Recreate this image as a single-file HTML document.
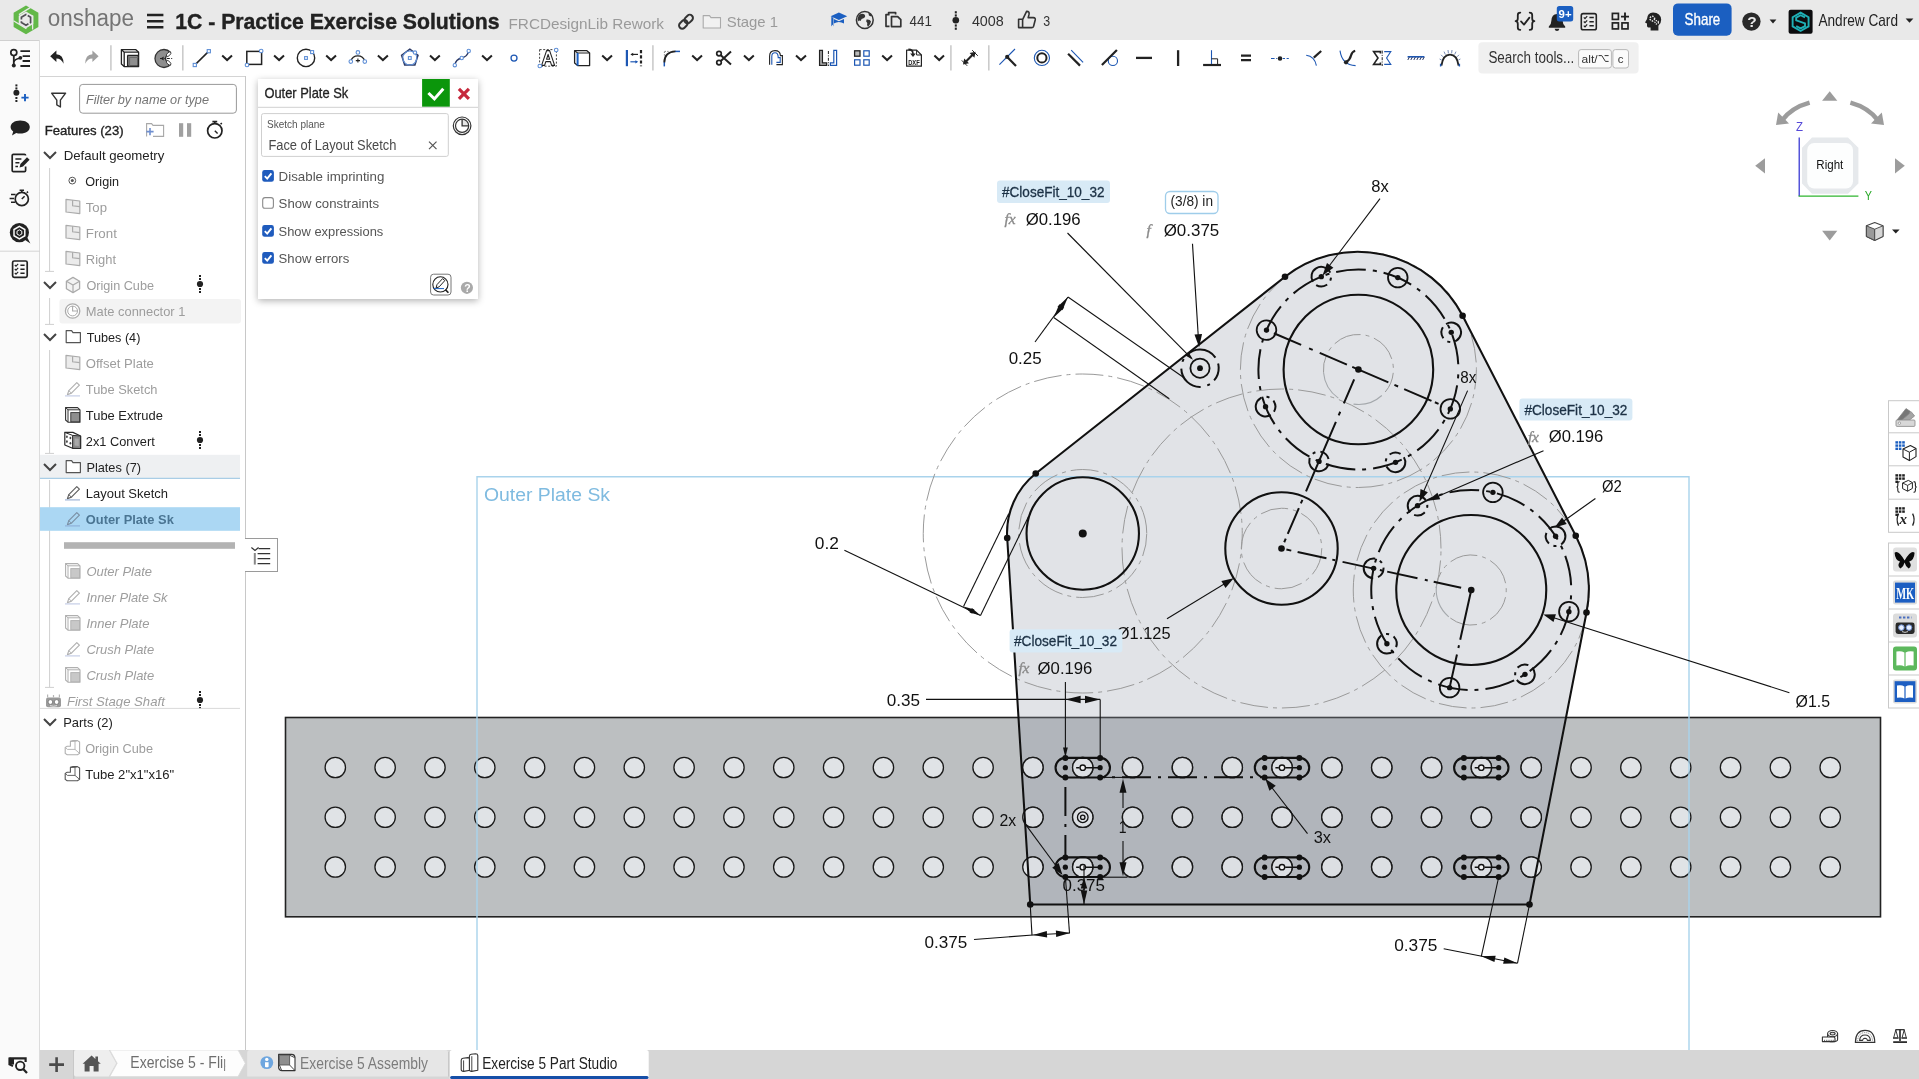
<!DOCTYPE html>
<html lang="en"><head><meta charset="utf-8"><title>Onshape - 1C - Practice Exercise Solutions</title>
<style>
html,body{margin:0;padding:0;background:#fff;}
body{width:1919px;height:1079px;overflow:hidden;position:relative;font-family:"Liberation Sans",sans-serif;}
svg text{font-family:"Liberation Sans",sans-serif;}
.abs{position:absolute;overflow:hidden;will-change:transform;}
#topbar{left:0;top:0;width:1919px;height:40px;background:#e9e9e9;}
#toolbar{left:0;top:40px;width:1919px;height:36px;background:#fff;}
#strip{left:0;top:40px;width:40px;height:1039px;background:#fafafa;box-shadow:inset -1px 0 0 #dcdcdc, inset 0 1px 0 #d0d0d0;}
#features{left:40px;top:76px;width:206px;height:974px;background:#fff;box-shadow:inset -1px 0 0 #c8c8c8, inset 0 1px 0 #d4d4d4;}
#canvas{left:246px;top:76px;width:1673px;height:974px;background:#fff;}
#dialog{left:258px;top:79px;width:220px;height:220px;background:#fff;box-shadow:0 2px 7px rgba(0,0,0,.30);overflow:visible;}
#tabbar{left:40px;top:1050px;width:1879px;height:29px;background:#d6d6d6;}
#viewcube{left:1740px;top:80px;width:179px;height:180px;}
#rtools{left:1880px;top:395px;width:39px;height:320px;}
#listbtn{left:245px;top:538px;width:33px;height:34px;background:#fff;box-shadow:inset 0 1px 0 #9a9a9a, inset -1px 0 0 #9a9a9a, inset 0 -1px 0 #9a9a9a;}
</style></head>
<body>
<div id="canvas" class="abs"><svg width="1673" height="974" viewBox="246 76 1673 974" style="position:absolute;left:0;top:0" >
<text x="484.0" y="501.0" font-size="18" fill="#7fbbe0" textLength="126.0" lengthAdjust="spacingAndGlyphs">Outer Plate Sk</text>
<rect x="285.5" y="717.5" width="1595" height="199.3" fill="#bcbfc1" stroke="#222" stroke-width="1.6"/>
<path d="M1030.25 904.5L1007.2 538.0A76 76 0 0 1 1035.75 473.5L1285.0 276.75A118 118 0 0 1 1462.6 315.8L1575.75 535.75A118 118 0 0 1 1586.5 612.5L1529.5 904.5Z" fill="rgba(150,160,171,0.29)"/>
<clipPath id="plateclip"><path d="M1030.25 904.5L1007.2 538.0A76 76 0 0 1 1035.75 473.5L1285.0 276.75A118 118 0 0 1 1462.6 315.8L1575.75 535.75A118 118 0 0 1 1586.5 612.5L1529.5 904.5Z"/></clipPath>
<g fill="#e0e3e6" stroke="#1a1a1a" stroke-width="1.3">
<circle cx="335.30" cy="767.5" r="10.2"/><circle cx="385.13" cy="767.5" r="10.2"/><circle cx="434.96" cy="767.5" r="10.2"/><circle cx="484.79" cy="767.5" r="10.2"/><circle cx="534.62" cy="767.5" r="10.2"/><circle cx="584.45" cy="767.5" r="10.2"/><circle cx="634.28" cy="767.5" r="10.2"/><circle cx="684.11" cy="767.5" r="10.2"/><circle cx="733.94" cy="767.5" r="10.2"/><circle cx="783.77" cy="767.5" r="10.2"/><circle cx="833.60" cy="767.5" r="10.2"/><circle cx="883.43" cy="767.5" r="10.2"/><circle cx="933.26" cy="767.5" r="10.2"/><circle cx="983.09" cy="767.5" r="10.2"/><circle cx="1032.92" cy="767.5" r="10.2"/><circle cx="1082.75" cy="767.5" r="10.2"/><circle cx="1132.58" cy="767.5" r="10.2"/><circle cx="1182.41" cy="767.5" r="10.2"/><circle cx="1232.24" cy="767.5" r="10.2"/><circle cx="1282.07" cy="767.5" r="10.2"/><circle cx="1331.90" cy="767.5" r="10.2"/><circle cx="1381.73" cy="767.5" r="10.2"/><circle cx="1431.56" cy="767.5" r="10.2"/><circle cx="1481.39" cy="767.5" r="10.2"/><circle cx="1531.22" cy="767.5" r="10.2"/><circle cx="1581.05" cy="767.5" r="10.2"/><circle cx="1630.88" cy="767.5" r="10.2"/><circle cx="1680.71" cy="767.5" r="10.2"/><circle cx="1730.54" cy="767.5" r="10.2"/><circle cx="1780.37" cy="767.5" r="10.2"/><circle cx="1830.20" cy="767.5" r="10.2"/><circle cx="335.30" cy="817.25" r="10.2"/><circle cx="385.13" cy="817.25" r="10.2"/><circle cx="434.96" cy="817.25" r="10.2"/><circle cx="484.79" cy="817.25" r="10.2"/><circle cx="534.62" cy="817.25" r="10.2"/><circle cx="584.45" cy="817.25" r="10.2"/><circle cx="634.28" cy="817.25" r="10.2"/><circle cx="684.11" cy="817.25" r="10.2"/><circle cx="733.94" cy="817.25" r="10.2"/><circle cx="783.77" cy="817.25" r="10.2"/><circle cx="833.60" cy="817.25" r="10.2"/><circle cx="883.43" cy="817.25" r="10.2"/><circle cx="933.26" cy="817.25" r="10.2"/><circle cx="983.09" cy="817.25" r="10.2"/><circle cx="1032.92" cy="817.25" r="10.2"/><circle cx="1082.75" cy="817.25" r="10.2"/><circle cx="1132.58" cy="817.25" r="10.2"/><circle cx="1182.41" cy="817.25" r="10.2"/><circle cx="1232.24" cy="817.25" r="10.2"/><circle cx="1282.07" cy="817.25" r="10.2"/><circle cx="1331.90" cy="817.25" r="10.2"/><circle cx="1381.73" cy="817.25" r="10.2"/><circle cx="1431.56" cy="817.25" r="10.2"/><circle cx="1481.39" cy="817.25" r="10.2"/><circle cx="1531.22" cy="817.25" r="10.2"/><circle cx="1581.05" cy="817.25" r="10.2"/><circle cx="1630.88" cy="817.25" r="10.2"/><circle cx="1680.71" cy="817.25" r="10.2"/><circle cx="1730.54" cy="817.25" r="10.2"/><circle cx="1780.37" cy="817.25" r="10.2"/><circle cx="1830.20" cy="817.25" r="10.2"/><circle cx="335.30" cy="867.0" r="10.2"/><circle cx="385.13" cy="867.0" r="10.2"/><circle cx="434.96" cy="867.0" r="10.2"/><circle cx="484.79" cy="867.0" r="10.2"/><circle cx="534.62" cy="867.0" r="10.2"/><circle cx="584.45" cy="867.0" r="10.2"/><circle cx="634.28" cy="867.0" r="10.2"/><circle cx="684.11" cy="867.0" r="10.2"/><circle cx="733.94" cy="867.0" r="10.2"/><circle cx="783.77" cy="867.0" r="10.2"/><circle cx="833.60" cy="867.0" r="10.2"/><circle cx="883.43" cy="867.0" r="10.2"/><circle cx="933.26" cy="867.0" r="10.2"/><circle cx="983.09" cy="867.0" r="10.2"/><circle cx="1032.92" cy="867.0" r="10.2"/><circle cx="1082.75" cy="867.0" r="10.2"/><circle cx="1132.58" cy="867.0" r="10.2"/><circle cx="1182.41" cy="867.0" r="10.2"/><circle cx="1232.24" cy="867.0" r="10.2"/><circle cx="1282.07" cy="867.0" r="10.2"/><circle cx="1331.90" cy="867.0" r="10.2"/><circle cx="1381.73" cy="867.0" r="10.2"/><circle cx="1431.56" cy="867.0" r="10.2"/><circle cx="1481.39" cy="867.0" r="10.2"/><circle cx="1531.22" cy="867.0" r="10.2"/><circle cx="1581.05" cy="867.0" r="10.2"/><circle cx="1630.88" cy="867.0" r="10.2"/><circle cx="1680.71" cy="867.0" r="10.2"/><circle cx="1730.54" cy="867.0" r="10.2"/><circle cx="1780.37" cy="867.0" r="10.2"/><circle cx="1830.20" cy="867.0" r="10.2"/>
</g>
<g fill="#dcdfe3" stroke="#1a1a1a" stroke-width="1.3" clip-path="url(#plateclip)">
<circle cx="983.09" cy="767.5" r="10.2"/><circle cx="1032.92" cy="767.5" r="10.2"/><circle cx="1082.75" cy="767.5" r="10.2"/><circle cx="1132.58" cy="767.5" r="10.2"/><circle cx="1182.41" cy="767.5" r="10.2"/><circle cx="1232.24" cy="767.5" r="10.2"/><circle cx="1282.07" cy="767.5" r="10.2"/><circle cx="1331.90" cy="767.5" r="10.2"/><circle cx="1381.73" cy="767.5" r="10.2"/><circle cx="1431.56" cy="767.5" r="10.2"/><circle cx="1481.39" cy="767.5" r="10.2"/><circle cx="1531.22" cy="767.5" r="10.2"/><circle cx="1581.05" cy="767.5" r="10.2"/><circle cx="983.09" cy="817.25" r="10.2"/><circle cx="1032.92" cy="817.25" r="10.2"/><circle cx="1082.75" cy="817.25" r="10.2"/><circle cx="1132.58" cy="817.25" r="10.2"/><circle cx="1182.41" cy="817.25" r="10.2"/><circle cx="1232.24" cy="817.25" r="10.2"/><circle cx="1282.07" cy="817.25" r="10.2"/><circle cx="1331.90" cy="817.25" r="10.2"/><circle cx="1381.73" cy="817.25" r="10.2"/><circle cx="1431.56" cy="817.25" r="10.2"/><circle cx="1481.39" cy="817.25" r="10.2"/><circle cx="1531.22" cy="817.25" r="10.2"/><circle cx="1581.05" cy="817.25" r="10.2"/><circle cx="983.09" cy="867.0" r="10.2"/><circle cx="1032.92" cy="867.0" r="10.2"/><circle cx="1082.75" cy="867.0" r="10.2"/><circle cx="1132.58" cy="867.0" r="10.2"/><circle cx="1182.41" cy="867.0" r="10.2"/><circle cx="1232.24" cy="867.0" r="10.2"/><circle cx="1282.07" cy="867.0" r="10.2"/><circle cx="1331.90" cy="867.0" r="10.2"/><circle cx="1381.73" cy="867.0" r="10.2"/><circle cx="1431.56" cy="867.0" r="10.2"/><circle cx="1481.39" cy="867.0" r="10.2"/><circle cx="1531.22" cy="867.0" r="10.2"/><circle cx="1581.05" cy="867.0" r="10.2"/>
</g>
<path d="M477 1052V476.7H1689V1052" fill="none" stroke="#a9d3ec" stroke-width="1.4"/>
<g fill="none" stroke="#9a9a9a" stroke-width="1" stroke-dasharray="28 5 4 5">
<circle cx="1082.75" cy="533.5" r="64" stroke-dashoffset="5"/><circle cx="1082.75" cy="533.5" r="159.5" stroke-dashoffset="12"/><circle cx="1281.5" cy="548.5" r="40.25" stroke-dashoffset="0"/><circle cx="1281.5" cy="548.5" r="159.5" stroke-dashoffset="30"/><circle cx="1358.4" cy="369.5" r="118" stroke-dashoffset="8"/><circle cx="1471.25" cy="590.0" r="118" stroke-dashoffset="20"/><path d="M1323.53 372.55A35 35 0 1 1 1385.21 392.00" stroke-dashoffset="10"/><path d="M1436.59 585.13A35 35 0 1 1 1448.75 616.81" stroke-dashoffset="14"/>
</g>
<g fill="none" stroke="#a4a8ac" stroke-width="1.1">
<path d="M1381.82 395.51A35 35 0 0 1 1353.53 404.16"/><path d="M1338.32 398.17A35 35 0 0 1 1323.53 372.55"/><path d="M1448.75 616.81A35 35 0 0 1 1436.59 585.13"/>
</g>
<g fill="none" stroke="#111" stroke-width="2" stroke-dasharray="30 7 4 7">
<circle cx="1358.4" cy="369.5" r="100" stroke-dashoffset="32"/><circle cx="1471.25" cy="590.0" r="100" stroke-dashoffset="31.5"/><path d="M1266.5 330.1L1450.3 408.9" stroke-dasharray="0 8 29.7 8.6 4 7.6 29.6 5.8 39.3 6.6 4 6.6 29.7 3.7 4 12.8"/><path d="M1358.4 369.5L1281.5 548.5" stroke-dasharray="0 10.7 26.2 9.1 4 7 75.7 9.1 4 5 28.2 5 4 6.6"/><path d="M1281.5 548.5L1471.25 590.0" stroke-dasharray="0 5 5 6.5 29.5 6 3 7.5 31.7 6.5 3 4.5 31 7.5 3 6.1 28.1 10.3"/><path d="M1471.25 590.0L1449.6 687.6" stroke-dasharray="51 5.5 3 6.5 34"/><path d="M1065.4 778V857" stroke-dasharray="29 8 3 8" stroke-dashoffset="-9"/><path d="M1100 777.3H1264.6" stroke-dasharray="29 7 3 7" stroke-dashoffset="24"/>
</g>
<path d="M1200.65 386.89A18.7 18.7 0 1 1 1199.35 349.51A18.7 18.7 0 1 1 1200.65 386.89" fill="none" stroke="#111" stroke-width="2" stroke-dasharray="29.4 7 3 6 31.6 6.5 18 5.5 3 7.5"/>
<path d="M1030.25 904.5L1007.2 538.0A76 76 0 0 1 1035.75 473.5L1285.0 276.75A118 118 0 0 1 1462.6 315.8L1575.75 535.75A118 118 0 0 1 1586.5 612.5L1529.5 904.5Z" fill="none" stroke="#111" stroke-width="2.05" stroke-linejoin="round"/>
<g fill="none" stroke="#111" stroke-width="2.1">
<circle cx="1082.75" cy="533.5" r="56.2"/><circle cx="1281.5" cy="548.5" r="56.2"/><circle cx="1358.4" cy="369.5" r="74.8"/><circle cx="1471.25" cy="590.0" r="75"/>
</g>
<g fill="none" stroke="#111" stroke-width="1.6">
<circle cx="1450.31" cy="408.89" r="9.8" stroke-width="1.8"/><path d="M1403.87 457.18A9.8 9.8 0 1 1 1387.21 467.51A9.8 9.8 0 1 1 1403.87 457.18" stroke-width="2" stroke-dasharray="32 5 3 5 11.6 5"/><path d="M1328.55 463.65A9.8 9.8 0 1 1 1309.46 459.18A9.8 9.8 0 1 1 1328.55 463.65" stroke-width="2" stroke-dasharray="32 5 3 5 11.6 5"/><path d="M1270.72 414.97A9.8 9.8 0 1 1 1260.39 398.31A9.8 9.8 0 1 1 1270.72 414.97" stroke-width="2" stroke-dasharray="32 5 3 5 11.6 5"/><circle cx="1266.49" cy="330.11" r="9.8" stroke-width="1.8"/><path d="M1312.93 281.82A9.8 9.8 0 1 1 1329.59 271.49A9.8 9.8 0 1 1 1312.93 281.82" stroke-width="2" stroke-dasharray="32 5 3 5 11.6 5"/><circle cx="1397.79" cy="277.59" r="9.8" stroke-width="1.8"/><path d="M1446.08 324.03A9.8 9.8 0 1 1 1456.41 340.69A9.8 9.8 0 1 1 1446.08 324.03" stroke-width="2" stroke-dasharray="32 5 3 5 11.6 5"/><circle cx="1568.88" cy="611.64" r="9.8" stroke-width="1.8"/><path d="M1532.21 667.72A9.8 9.8 0 1 1 1517.75 680.96A9.8 9.8 0 1 1 1532.21 667.72" stroke-width="2" stroke-dasharray="32 5 3 5 11.6 5"/><circle cx="1449.61" cy="687.63" r="9.8" stroke-width="1.8"/><path d="M1393.53 650.96A9.8 9.8 0 1 1 1380.29 636.50A9.8 9.8 0 1 1 1393.53 650.96" stroke-width="2" stroke-dasharray="32 5 3 5 11.6 5"/><path d="M1373.19 578.15A9.8 9.8 0 1 1 1374.05 558.57A9.8 9.8 0 1 1 1373.19 578.15" stroke-width="2" stroke-dasharray="32 5 3 5 11.6 5"/><path d="M1410.29 512.28A9.8 9.8 0 1 1 1424.75 499.04A9.8 9.8 0 1 1 1410.29 512.28" stroke-width="2" stroke-dasharray="32 5 3 5 11.6 5"/><circle cx="1492.89" cy="492.37" r="9.8" stroke-width="1.8"/><path d="M1548.97 529.04A9.8 9.8 0 1 1 1562.21 543.50A9.8 9.8 0 1 1 1548.97 529.04" stroke-width="2" stroke-dasharray="32 5 3 5 11.6 5"/><circle cx="1200" cy="368.2" r="9.6" stroke-width="1.8"/>
</g>
<g fill="none" stroke="#111">
<path d="M1065.35 757.90H1100.15A9.8 9.8 0 0 1 1100.15 777.50H1065.35A9.8 9.8 0 0 1 1065.35 757.90Z" stroke-width="2.1"/><circle cx="1082.75" cy="767.7" r="2.7" stroke-width="1.4" fill="#f4f5f6"/><path d="M1085.95 767.7H1100.15M1076.15 767.7H1079.55" stroke-width="1.4"/><path d="M1065.35 857.40H1100.15A9.8 9.8 0 0 1 1100.15 877.00H1065.35A9.8 9.8 0 0 1 1065.35 857.40Z" stroke-width="2.1"/><circle cx="1082.75" cy="867.2" r="2.7" stroke-width="1.4" fill="#f4f5f6"/><path d="M1085.95 867.2H1100.15M1076.15 867.2H1079.55" stroke-width="1.4"/><path d="M1264.60 757.90H1299.40A9.8 9.8 0 0 1 1299.40 777.50H1264.60A9.8 9.8 0 0 1 1264.60 757.90Z" stroke-width="2.1"/><circle cx="1282.0" cy="767.7" r="2.7" stroke-width="1.4" fill="#f4f5f6"/><path d="M1285.2 767.7H1299.40M1275.4 767.7H1278.8" stroke-width="1.4"/><path d="M1264.60 857.40H1299.40A9.8 9.8 0 0 1 1299.40 877.00H1264.60A9.8 9.8 0 0 1 1264.60 857.40Z" stroke-width="2.1"/><circle cx="1282.0" cy="867.2" r="2.7" stroke-width="1.4" fill="#f4f5f6"/><path d="M1285.2 867.2H1299.40M1275.4 867.2H1278.8" stroke-width="1.4"/><path d="M1463.90 757.90H1498.70A9.8 9.8 0 0 1 1498.70 777.50H1463.90A9.8 9.8 0 0 1 1463.90 757.90Z" stroke-width="2.1"/><circle cx="1481.3" cy="767.7" r="2.7" stroke-width="1.4" fill="#f4f5f6"/><path d="M1484.5 767.7H1498.70M1474.7 767.7H1478.1" stroke-width="1.4"/><path d="M1463.90 857.40H1498.70A9.8 9.8 0 0 1 1498.70 877.00H1463.90A9.8 9.8 0 0 1 1463.90 857.40Z" stroke-width="2.1"/><circle cx="1481.3" cy="867.2" r="2.7" stroke-width="1.4" fill="#f4f5f6"/><path d="M1484.5 867.2H1498.70M1474.7 867.2H1478.1" stroke-width="1.4"/><circle cx="1082.75" cy="817.25" r="5.3" stroke-width="1.3"/><circle cx="1082.75" cy="817.25" r="2.2" stroke-width="1.3"/>
</g>
<g fill="#111">
<circle cx="1030.25" cy="904.5" r="3.3"/><circle cx="1007.2" cy="538.0" r="3.3"/><circle cx="1035.75" cy="473.5" r="3.3"/><circle cx="1285.0" cy="276.75" r="3.3"/><circle cx="1462.6" cy="315.8" r="3.3"/><circle cx="1575.75" cy="535.75" r="3.3"/><circle cx="1586.5" cy="612.5" r="3.3"/><circle cx="1529.5" cy="904.5" r="3.3"/><circle cx="1082.75" cy="533.5" r="4"/><circle cx="1281.5" cy="548.5" r="3.3"/><circle cx="1358.4" cy="369.5" r="3.3"/><circle cx="1471.25" cy="590.0" r="3.3"/><circle cx="1450.31" cy="408.89" r="2.7"/><circle cx="1395.54" cy="462.35" r="2.7"/><circle cx="1319.01" cy="461.41" r="2.7"/><circle cx="1265.55" cy="406.64" r="2.7"/><circle cx="1266.49" cy="330.11" r="2.7"/><circle cx="1321.26" cy="276.65" r="2.7"/><circle cx="1397.79" cy="277.59" r="2.7"/><circle cx="1451.25" cy="332.36" r="2.7"/><circle cx="1568.88" cy="611.64" r="2.7"/><circle cx="1524.98" cy="674.34" r="2.7"/><circle cx="1449.61" cy="687.63" r="2.7"/><circle cx="1386.91" cy="643.73" r="2.7"/><circle cx="1373.62" cy="568.36" r="2.7"/><circle cx="1417.52" cy="505.66" r="2.7"/><circle cx="1492.89" cy="492.37" r="2.7"/><circle cx="1555.59" cy="536.27" r="2.7"/><circle cx="1200" cy="368.2" r="2.9"/><circle cx="1065.35" cy="757.90" r="3"/><circle cx="1065.35" cy="767.70" r="2.6"/><circle cx="1065.35" cy="777.50" r="3"/><circle cx="1100.15" cy="757.90" r="3"/><circle cx="1100.15" cy="767.70" r="2.6"/><circle cx="1100.15" cy="777.50" r="3"/><circle cx="1065.35" cy="857.40" r="3"/><circle cx="1065.35" cy="867.20" r="2.6"/><circle cx="1065.35" cy="877.00" r="3"/><circle cx="1100.15" cy="857.40" r="3"/><circle cx="1100.15" cy="867.20" r="2.6"/><circle cx="1100.15" cy="877.00" r="3"/><circle cx="1264.60" cy="757.90" r="3"/><circle cx="1264.60" cy="767.70" r="2.6"/><circle cx="1264.60" cy="777.50" r="3"/><circle cx="1299.40" cy="757.90" r="3"/><circle cx="1299.40" cy="767.70" r="2.6"/><circle cx="1299.40" cy="777.50" r="3"/><circle cx="1264.60" cy="857.40" r="3"/><circle cx="1264.60" cy="867.20" r="2.6"/><circle cx="1264.60" cy="877.00" r="3"/><circle cx="1299.40" cy="857.40" r="3"/><circle cx="1299.40" cy="867.20" r="2.6"/><circle cx="1299.40" cy="877.00" r="3"/><circle cx="1463.90" cy="757.90" r="3"/><circle cx="1463.90" cy="767.70" r="2.6"/><circle cx="1463.90" cy="777.50" r="3"/><circle cx="1498.70" cy="757.90" r="3"/><circle cx="1498.70" cy="767.70" r="2.6"/><circle cx="1498.70" cy="777.50" r="3"/><circle cx="1463.90" cy="857.40" r="3"/><circle cx="1463.90" cy="867.20" r="2.6"/><circle cx="1463.90" cy="877.00" r="3"/><circle cx="1498.70" cy="857.40" r="3"/><circle cx="1498.70" cy="867.20" r="2.6"/><circle cx="1498.70" cy="877.00" r="3"/>
</g>
<g fill="none" stroke="#111" stroke-width="1.1">
<path d="M1067.5 233.0L1191.5 358.4"/><path d="M1192.5 243.7L1198.3 337.0"/><path d="M1380.0 198.7L1328.0 267.5"/><path d="M1068.0 297.0L1183.7 377.5"/><path d="M1053.7 317.5L1169.3 398.7"/><path d="M1035.0 342.0L1068.0 297.0"/><path d="M1008.7 513.7L963.5 606.5"/><path d="M1028.7 516.2L980.5 615.4"/><path d="M844.4 550.2L980.5 615.4"/><path d="M1167.0 618.7L1225.0 583.5"/><path d="M1467.6 390.6L1423.0 493.0"/><path d="M1543.5 450.7L1437.0 496.7"/><path d="M1595.4 498.5L1562.0 522.3"/><path d="M1789.4 692.7L1553.0 617.6"/><path d="M926.0 699.4L1100.2 699.4"/><path d="M1065.4 682.0L1065.4 748.0"/><path d="M1100.2 699.4L1100.2 757.0"/><path d="M1025.0 823.7L1058.0 868.5"/><path d="M1123.0 788.0L1123.0 808.0"/><path d="M1123.0 841.0L1123.0 866.0"/><path d="M1100.0 877.2L1127.5 877.2"/><path d="M1100.0 777.4L1127.5 777.4"/><path d="M1084.0 866.0L1084.0 905.0"/><path d="M1030.2 904.5L1032.0 935.3"/><path d="M1065.4 877.0L1069.5 933.0"/><path d="M974.0 939.5L1033.0 935.0"/><path d="M1033.0 935.0L1070.0 933.0"/><path d="M1307.5 833.7L1271.0 786.5"/><path d="M1498.7 877.0L1481.3 956.3"/><path d="M1529.5 904.5L1517.5 963.2"/><path d="M1443.7 948.7L1517.5 963.2"/>
</g>
<path d="M1193.00 359.80L1185.39 355.38L1188.66 352.14Z" fill="#111"/>
<path d="M1199.10 347.30L1194.48 334.57L1202.07 334.08Z" fill="#111"/>
<path d="M1322.40 275.80L1326.98 262.99L1333.39 267.78Z" fill="#111"/>
<path d="M1068.00 297.00L1062.45 310.20L1057.53 306.77Z" fill="#111"/>
<path d="M1053.70 317.50L1059.25 304.30L1064.17 307.73Z" fill="#111"/>
<path d="M963.50 606.50L974.40 609.39L972.09 613.82Z" fill="#111"/>
<path d="M980.50 615.40L969.60 612.51L971.91 608.08Z" fill="#111"/>
<path d="M1233.70 578.30L1225.51 587.94L1221.36 581.10Z" fill="#111"/>
<path d="M1419.40 501.70L1420.51 489.10L1427.85 492.28Z" fill="#111"/>
<path d="M1427.80 500.70L1437.43 492.73L1440.20 499.15Z" fill="#111"/>
<path d="M1554.60 527.60L1562.05 517.38L1566.69 523.89Z" fill="#111"/>
<path d="M1543.30 614.50L1555.95 614.32L1553.53 621.95Z" fill="#111"/>
<path d="M1065.60 699.40L1080.60 695.65L1080.60 703.15Z" fill="#111"/>
<path d="M1100.00 699.40L1085.00 703.15L1085.00 695.65Z" fill="#111"/>
<path d="M1065.40 757.40L1063.00 747.40L1067.80 747.40Z" fill="#111"/>
<path d="M1062.50 875.00L1052.19 867.67L1058.65 862.95Z" fill="#111"/>
<path d="M1123.00 778.80L1126.50 792.80L1119.50 792.80Z" fill="#111"/>
<path d="M1123.00 876.30L1119.50 862.30L1126.50 862.30Z" fill="#111"/>
<path d="M1084.00 877.50L1087.25 888.50L1080.75 888.50Z" fill="#111"/>
<path d="M1084.00 904.50L1080.75 890.50L1087.25 890.50Z" fill="#111"/>
<path d="M1033.00 935.00L1046.80 931.00L1047.16 937.49Z" fill="#111"/>
<path d="M1070.00 933.00L1056.20 937.00L1055.84 930.51Z" fill="#111"/>
<path d="M1265.30 778.70L1275.78 785.79L1269.43 790.66Z" fill="#111"/>
<path d="M1481.30 956.30L1495.66 955.73L1494.44 962.11Z" fill="#111"/>
<path d="M1517.50 963.20L1503.14 963.77L1504.36 957.39Z" fill="#111"/>
<text x="1025.7" y="224.5" font-size="17" fill="#111" textLength="55.0" lengthAdjust="spacingAndGlyphs">Ø0.196</text>
<text x="1163.7" y="235.5" font-size="17" fill="#111" textLength="55.6" lengthAdjust="spacingAndGlyphs">Ø0.375</text>
<text x="1371.3" y="191.5" font-size="17" fill="#111" textLength="17.5" lengthAdjust="spacingAndGlyphs">8x</text>
<text x="1008.7" y="363.7" font-size="17" fill="#111" textLength="33.0" lengthAdjust="spacingAndGlyphs">0.25</text>
<text x="814.8" y="548.7" font-size="17" fill="#111" textLength="24.1" lengthAdjust="spacingAndGlyphs">0.2</text>
<text x="1116.8" y="638.7" font-size="17" fill="#111" textLength="53.8" lengthAdjust="spacingAndGlyphs">Ø1.125</text>
<text x="1460.2" y="382.6" font-size="17" fill="#111" textLength="16.1" lengthAdjust="spacingAndGlyphs">8x</text>
<text x="1548.7" y="442.4" font-size="17" fill="#111" textLength="54.6" lengthAdjust="spacingAndGlyphs">Ø0.196</text>
<text x="1601.9" y="492.4" font-size="17" fill="#111" textLength="19.8" lengthAdjust="spacingAndGlyphs">Ø2</text>
<text x="1795.6" y="706.7" font-size="17" fill="#111" textLength="34.4" lengthAdjust="spacingAndGlyphs">Ø1.5</text>
<text x="1037.6" y="673.7" font-size="17" fill="#111" textLength="54.8" lengthAdjust="spacingAndGlyphs">Ø0.196</text>
<text x="886.7" y="706.0" font-size="17" fill="#111" textLength="33.3" lengthAdjust="spacingAndGlyphs">0.35</text>
<text x="999.5" y="826.2" font-size="17" fill="#111" textLength="16.7" lengthAdjust="spacingAndGlyphs">2x</text>
<text x="1118.7" y="833.0" font-size="17" fill="#111" textLength="7.8" lengthAdjust="spacingAndGlyphs">1</text>
<text x="1062.5" y="891.2" font-size="17" fill="#111" textLength="42.5" lengthAdjust="spacingAndGlyphs">0.375</text>
<text x="924.5" y="947.8" font-size="17" fill="#111" textLength="42.8" lengthAdjust="spacingAndGlyphs">0.375</text>
<text x="1313.7" y="842.5" font-size="17" fill="#111" textLength="17.3" lengthAdjust="spacingAndGlyphs">3x</text>
<text x="1394.2" y="951.2" font-size="17" fill="#111" textLength="43.3" lengthAdjust="spacingAndGlyphs">0.375</text>
<text x="1004.6" y="224" style="font-family:'Liberation Serif',serif;font-style:italic" font-size="15.5" fill="#8a8a8a" stroke="#8a8a8a" stroke-width="0.35" letter-spacing="-0.2">fx</text>
<text x="1146.4" y="235" style="font-family:'Liberation Serif',serif;font-style:italic" font-size="15.5" fill="#8a8a8a" stroke="#8a8a8a" stroke-width="0.35" letter-spacing="-0.2">f</text>
<text x="1528" y="442" style="font-family:'Liberation Serif',serif;font-style:italic" font-size="15.5" fill="#8a8a8a" stroke="#8a8a8a" stroke-width="0.35" letter-spacing="-0.2">fx</text>
<text x="1018.4" y="673" style="font-family:'Liberation Serif',serif;font-style:italic" font-size="15.5" fill="#8a8a8a" stroke="#8a8a8a" stroke-width="0.35" letter-spacing="-0.2">fx</text>
<rect x="997" y="180.5" width="113.0" height="22.5" rx="3" fill="#d8eaf6"/>
<text x="1002.0" y="196.8" font-size="14.5" fill="#1c3145" textLength="102.5" lengthAdjust="spacingAndGlyphs" stroke="#1c3145" stroke-width="0.3">#CloseFit_10_32</text>
<rect x="1519.4" y="398.5" width="113.0" height="22.0" rx="3" fill="#d8eaf6"/>
<text x="1524.4" y="414.6" font-size="14.5" fill="#1c3145" textLength="103.0" lengthAdjust="spacingAndGlyphs" stroke="#1c3145" stroke-width="0.3">#CloseFit_10_32</text>
<rect x="1009.6" y="629.2" width="112.8" height="23.3" rx="3" fill="#d8eaf6"/>
<text x="1014.0" y="645.8" font-size="14.5" fill="#1c3145" textLength="103.0" lengthAdjust="spacingAndGlyphs" stroke="#1c3145" stroke-width="0.3">#CloseFit_10_32</text>
<rect x="1165.5" y="191.5" width="52.5" height="22" rx="4.5" fill="#fff" stroke="#9fcdea" stroke-width="1.3"/>
<text x="1170.5" y="205.7" font-size="14" fill="#222" textLength="42.5" lengthAdjust="spacingAndGlyphs">(3/8) in</text>
<g fill="#fff" stroke="#333" stroke-width="1.1" stroke-linejoin="round"><path d="M1827.6 1033.6V1040Q1827.8 1041.8 1832.6 1041.8Q1837.6 1041.8 1837.6 1039.6V1033.6"/><ellipse cx="1832.6" cy="1033.6" rx="5" ry="3.1"/><ellipse cx="1832.6" cy="1033.6" rx="2.5" ry="1.4" fill="#ddd"/><path d="M1822.4 1037H1833.6Q1835 1037 1835 1038.4V1041.6H1822.4Z"/></g>
<path d="M1824.6 1039.8V1041.6M1826.8 1039.8V1041.6M1829 1039.8V1041.6M1831.2 1039.8V1041.6M1833.2 1039.8V1041.6" stroke="#333" stroke-width="0.8"/>
<path d="M1855.4 1042.4Q1855.6 1030.4 1865 1030.4Q1874.6 1030.4 1874.8 1042.4Z" fill="#fff" stroke="#333" stroke-width="1.2" stroke-linejoin="round"/>
<path d="M1857.6 1041.2Q1858 1032.6 1865 1032.6Q1872 1032.6 1872.6 1041.2" fill="none" stroke="#777" stroke-width="1" stroke-dasharray="1 1"/>
<path d="M1859.6 1040.4Q1860 1035 1865 1035Q1870 1035 1870.4 1040.4L1867.4 1040.4Q1866.6 1037.8 1865 1038.6Q1863.4 1037.8 1862.6 1040.4Z" fill="#fff" stroke="#333" stroke-width="1.1" stroke-linejoin="round"/>
<g fill="none" stroke="#222"><path d="M1895.4 1029.7H1904.6" stroke-width="1.2"/><path d="M1900 1029.7V1041" stroke-width="1.6"/><path d="M1893.2 1042.1H1907" stroke-width="1.7"/><path d="M1895.8 1029.9L1893.8 1037.4M1895.8 1029.9L1897.8 1037.4M1904.2 1029.9L1902.2 1037.4M1904.2 1029.9L1906.2 1037.4" stroke-width="0.9"/><path d="M1893 1038H1898.6M1901.4 1038H1907" stroke-width="1.7"/></g>
</svg>
</div>
<div id="topbar" class="abs"><svg width="1919" height="40" viewBox="0 0 1919 40" style="position:absolute;left:0;top:0" >
<polygon points="26.00,5.60 38.38,12.75 38.38,27.05 26.00,34.20 13.62,27.05 13.62,12.75" fill="#62b848"/>
<polygon points="26.00,11.50 33.27,15.70 33.27,24.10 26.00,28.30 18.73,24.10 18.73,15.70" fill="#e9e9e9"/>
<g stroke="#e9e9e9" stroke-width="1.3" fill="none"><path d="M30.2 7.6L19 14.6"/><path d="M32.6 15.5V29.5"/><path d="M13.4 20.8L26.4 28.6"/></g>
<polygon points="26.00,14.60 30.59,17.25 30.59,22.55 26.00,25.20 21.41,22.55 21.41,17.25" fill="none" stroke="#505055" stroke-width="1.7" stroke-dasharray="9.5 1.6" stroke-dashoffset="-2"/>
<text x="47.8" y="26.0" font-size="23.5" fill="#747474" textLength="86.2" lengthAdjust="spacingAndGlyphs">onshape</text>
<path d="M147 15.1H163.4M147 21.2H163.4M147 27.3H163.4" stroke="#222" stroke-width="2.5"/>
<text x="175.2" y="28.8" font-size="22" fill="#222" textLength="324.3" lengthAdjust="spacingAndGlyphs" font-weight="bold" stroke="#222" stroke-width="0.4">1C - Practice Exercise Solutions</text>
<text x="508.5" y="29.0" font-size="15" fill="#9a9a9a" textLength="155.5" lengthAdjust="spacingAndGlyphs">FRCDesignLib Rework</text>
<g transform="translate(686 21.7) rotate(-45)" fill="none" stroke="#333" stroke-width="2"><rect x="-8.5" y="-3.2" width="9.5" height="6.4" rx="3.2"/><rect x="-1" y="-3.2" width="9.5" height="6.4" rx="3.2"/></g>
<path d="M703.2 28V15.6H709.5L711 17.6H720.5V28Z" fill="#f1f1f1" stroke="#aaa" stroke-width="1.1" stroke-linejoin="round"/>
<text x="726.7" y="27.1" font-size="15" fill="#9a9a9a" textLength="51.4" lengthAdjust="spacingAndGlyphs">Stage 1</text>
<g fill="#1b5fc1"><path d="M838.9 12.6L847.2 16.3L838.9 20L830.6 16.3Z"/><path d="M833.8 19V23.6Q838.9 20.6 844 23.6V19L838.9 21.3Z"/><path d="M831.3 17V26.6L832.6 24.5L833.4 26.6V17.6Z"/></g>
<circle cx="864.8" cy="20" r="8.4" fill="none" stroke="#333" stroke-width="1.5"/>
<path d="M859.5 14.5Q862.5 13 864.5 14.5Q866 16.5 864 18Q861 18.5 860.5 21Q859 20 858 21.5Q856.8 18 859.5 14.5ZM866.5 19.5Q870 19 871 21.5Q870.5 24.5 868 27Q866.5 25 867.3 23Q865.5 21.5 866.5 19.5ZM868.5 12.6Q871 13.8 872 16Q870 16.5 868.8 15.3Z" fill="#333"/>
<g fill="none" stroke="#333" stroke-width="1.7" stroke-linejoin="round"><path d="M889.5 14.6H886V26.3H889.5"/><path d="M888.6 14.6V12.6H895.6V14.6"/><path d="M891.5 16.6H897.7L900.8 19.7V26.6H891.5Z"/></g>
<text x="909.6" y="26.0" font-size="15" fill="#333" textLength="22.3" lengthAdjust="spacingAndGlyphs">441</text>
<g fill="#222"><circle cx="955.8" cy="20.2" r="3.3"/><rect x="954.8" y="11.2" width="2" height="2.2"/><rect x="954.8" y="14.4" width="2" height="2.2"/><rect x="954.8" y="24.4" width="2" height="2.2"/><rect x="954.8" y="27.6" width="2" height="2.2"/></g>
<text x="971.9" y="26.0" font-size="15" fill="#333" textLength="31.9" lengthAdjust="spacingAndGlyphs">4008</text>
<path d="M1018.6 19.3H1022.6V27.6H1018.6ZM1022.6 19.6L1026.6 11.4Q1029.6 11.2 1029 14.4L1028.2 17.6H1033.4Q1035.6 17.8 1035.2 20L1033.6 26.2Q1033.1 27.7 1031.4 27.6H1022.6" fill="none" stroke="#333" stroke-width="1.6" stroke-linejoin="round"/>
<text x="1043.3" y="26.0" font-size="15" fill="#333" textLength="6.9" lengthAdjust="spacingAndGlyphs">3</text>
<g fill="none" stroke="#222" stroke-width="1.8" stroke-linecap="round" stroke-linejoin="round"><path d="M1520.3 12.6Q1517.8 12.6 1517.8 15V18.4Q1517.8 21 1515.6 21.2Q1517.8 21.4 1517.8 24V27.4Q1517.8 29.8 1520.3 29.8"/><path d="M1529.7 12.6Q1532.2 12.6 1532.2 15V18.4Q1532.2 21 1534.4 21.2Q1532.2 21.4 1532.2 24V27.4Q1532.2 29.8 1529.7 29.8"/><path d="M1521 21.4L1524 24.6L1529.4 17.6"/></g>
<path d="M1557 14Q1562.4 14.4 1562.6 20.6Q1562.6 24.4 1565.2 26.6V27.8H1548.8V26.6Q1551.4 24.4 1551.4 20.6Q1551.6 14.4 1557 14ZM1554.6 28.8H1559.4Q1559 31 1557 31Q1555 31 1554.6 28.8Z" fill="#222"/>
<rect x="1556.8" y="6" width="16.4" height="15.6" rx="2.5" fill="#1b5fc1"/>
<text x="1558.6" y="17.6" font-size="11.5" fill="#fff" textLength="13.0" lengthAdjust="spacingAndGlyphs" font-weight="bold">9+</text>
<g fill="none" stroke="#222" stroke-width="1.6"><rect x="1581.3" y="13.6" width="15" height="16.2" rx="1.8"/><path d="M1589.4 17.6H1593.8M1589.4 21.7H1593.8M1589.4 25.8H1593.8" stroke-width="1.5"/><path d="M1583.8 17.4L1585 18.6L1587.2 16.2M1583.8 21.5L1585 22.7L1587.2 20.3M1583.8 25.6L1585 26.8L1587.2 24.4" stroke-width="1.2"/></g>
<g fill="none" stroke="#222" stroke-width="1.7"><rect x="1612.4" y="13.4" width="6" height="6"/><rect x="1612.4" y="22.9" width="6" height="6"/><rect x="1622" y="22.9" width="6" height="6"/><path d="M1625 12.6V20.6M1621 16.6H1629" stroke-width="1.9"/></g>
<path d="M1653 12.4Q1660.8 12.6 1661.2 19.8Q1661.2 23.6 1658.4 25.8V30.4H1650.6V27.4H1648.4Q1647 27.4 1647 25.8V23.4L1645 22.6L1647 19Q1647.4 12.6 1653 12.4Z" fill="#222"/>
<circle cx="1652.3" cy="18.6" r="2.3" fill="none" stroke="#e9e9e9" stroke-width="1.5" stroke-dasharray="1.4 1"/><circle cx="1656.7" cy="22.3" r="1.7" fill="none" stroke="#e9e9e9" stroke-width="1.3" stroke-dasharray="1.2 0.9"/>
<rect x="1673" y="3.4" width="58.6" height="32.4" rx="5" fill="#1b5fc1"/>
<text x="1684.6" y="25.2" font-size="17" fill="#fff" textLength="35.7" lengthAdjust="spacingAndGlyphs" stroke="#fff" stroke-width="0.35">Share</text>
<circle cx="1751.4" cy="21.6" r="9.2" fill="#2a2a2a"/>
<text x="1747.2" y="27.0" font-size="15.5" fill="#e9e9e9" font-weight="bold">?</text>
<path d="M1769.6 19.6H1776.4L1773 23.4Z" fill="#222"/>
<rect x="1788.6" y="9.8" width="24" height="24" rx="2" fill="#0c0c0e"/>
<polygon points="1800.60,12.60 1808.57,17.20 1808.57,26.40 1800.60,31.00 1792.63,26.40 1792.63,17.20" fill="none" stroke="#1fb0b6" stroke-width="1.9"/>
<path d="M1805 17.4L1800.6 15.2L1796.2 17.6V20.4L1805 23.4V26.2L1800.6 28.4L1796.2 26.2" fill="none" stroke="#1fb0b6" stroke-width="1.9"/>
<text x="1818.4" y="26.4" font-size="16.2" fill="#222" textLength="79.6" lengthAdjust="spacingAndGlyphs">Andrew Card</text>
<path d="M1905.6 18.6H1913.4L1909.5 22.8Z" fill="#222"/>
</svg>
</div>
<div id="toolbar" class="abs"><svg width="1919" height="36" viewBox="0 40 1919 36" style="position:absolute;left:0;top:0" >
<path d="M50.2 56.2L56.4 50.6V54.2Q63.6 54.6 63.6 63.8Q61.2 58.6 56.4 58.6V62Z" fill="#222"/>
<path d="M98.6 56.2L92.4 50.6V54.2Q85.2 54.6 85.2 63.8Q87.6 58.6 92.4 58.6V62Z" fill="#a0a0a0"/>
<path d="M110.9 45.2V70.6" stroke="#cbcbcb" stroke-width="1.6"/>
<g fill="none" stroke="#222" stroke-width="1.3" stroke-linejoin="round"><path d="M121.4 49.6H135.6L138.6 52.2V66.6H124.2L121.4 64Z" fill="#fff"/><path d="M121.4 49.6L124.2 52.2H138.6M124.2 52.2V66.6"/><rect x="127.6" y="55.4" width="10.6" height="10.8" fill="#8e8e8e"/><path d="M127.6 55.4L129.6 57.4H138.2M129.6 57.4V66.2" stroke="#6a6a6a" stroke-width="1"/></g>
<path d="M170.4 52.2A9 9 0 1 0 170.4 64.8L166.2 60.6A3.4 3.4 0 0 1 166.2 56.4Z" fill="#8e8e8e" stroke="#333" stroke-width="1.3"/>
<ellipse cx="168.6" cy="54.2" rx="2.8" ry="1.5" transform="rotate(-45 168.6 54.2)" fill="#fff" stroke="#333" stroke-width="0.9"/><ellipse cx="168.6" cy="62.8" rx="2.8" ry="1.5" transform="rotate(45 168.6 62.8)" fill="#fff" stroke="#333" stroke-width="0.9"/>
<path d="M160 58.5H173.4" stroke="#222" stroke-width="1" stroke-dasharray="3 1.4 1 1.4"/><path d="M160.6 58.5L163.6 56.6V60.4Z" fill="#222"/>
<path d="M182.8 45.2V70.6" stroke="#cbcbcb" stroke-width="1.6"/>
<path d="M195.2 64.6L208.4 51.6" stroke="#222" stroke-width="1.5"/>
<g fill="#fff" stroke="#5f8fd6" stroke-width="1.1"><rect x="193.2" y="63.4" width="3.2" height="3.2"/><rect x="207.2" y="49.6" width="3.2" height="3.2"/></g>
<path d="M222.2 55.6L227.1 60.1L232.0 55.6" fill="none" stroke="#222" stroke-width="2"/>
<rect x="246.8" y="51.4" width="14.8" height="13" fill="none" stroke="#222" stroke-width="1.5"/>
<g fill="#fff" stroke="#5f8fd6" stroke-width="1.1"><circle cx="261.2" cy="51" r="1.8"/><circle cx="247" cy="65" r="1.8"/></g>
<path d="M274.1 55.6L279.1 60.1L284.0 55.6" fill="none" stroke="#222" stroke-width="2"/>
<circle cx="306" cy="57.9" r="8.7" fill="none" stroke="#222" stroke-width="1.4"/>
<g fill="#fff" stroke="#5f8fd6" stroke-width="1.1"><rect x="304.6" y="56.6" width="2.8" height="2.8"/><rect x="310.6" y="50.6" width="3" height="3"/></g>
<path d="M326.2 55.6L331.1 60.1L336.0 55.6" fill="none" stroke="#222" stroke-width="2"/>
<path d="M350.8 61.2A7.3 7.3 0 0 1 364.8 61.2" fill="none" stroke="#222" stroke-width="1.3"/>
<g fill="#fff" stroke="#5f8fd6" stroke-width="1.1"><circle cx="350.8" cy="61.6" r="1.8"/><circle cx="364.8" cy="61.6" r="1.8"/><circle cx="357.9" cy="52.4" r="1.8"/></g>
<path d="M355.8 60.6H360M357.9 58.6V62.6" stroke="#222" stroke-width="1.1"/>
<path d="M377.9 55.6L382.9 60.1L387.9 55.6" fill="none" stroke="#222" stroke-width="2"/>
<path d="M409.8 49.2L418 55.2L414.9 65H404.7L401.6 55.2Z" fill="none" stroke="#2c3a66" stroke-width="1.5"/>
<circle cx="409.8" cy="58" r="7" fill="none" stroke="#5f8fd6" stroke-width="1.1"/><rect x="408.4" y="56.6" width="2.8" height="2.8" fill="#fff" stroke="#5f8fd6" stroke-width="1.1"/><circle cx="415" cy="52.6" r="1.7" fill="#fff" stroke="#5f8fd6" stroke-width="1.1"/>
<path d="M430.0 55.6L434.9 60.1L439.8 55.6" fill="none" stroke="#222" stroke-width="2"/>
<path d="M454.8 65Q455.6 59.6 461.6 58Q467.6 56.6 468.6 51" fill="none" stroke="#2c3a66" stroke-width="1.4"/>
<g fill="#fff" stroke="#5f8fd6" stroke-width="1.1"><circle cx="454.8" cy="65.2" r="1.7"/><circle cx="461.7" cy="58" r="1.7"/><circle cx="468.7" cy="51" r="1.7"/></g>
<path d="M482.1 55.6L487.0 60.1L491.9 55.6" fill="none" stroke="#222" stroke-width="2"/>
<circle cx="514" cy="58.1" r="3" fill="#fff" stroke="#1d57b3" stroke-width="1.3"/>
<rect x="539.6" y="49.6" width="16.8" height="16.6" fill="none" stroke="#444" stroke-width="1" stroke-dasharray="2 1.6"/>
<path d="M541.6 65.4L546.6 50.6H549.6L554.6 65.4H551.6L550.4 61.6H545.8L544.6 65.4ZM546.6 59.2H549.6L548.1 54.4Z" fill="#fff" stroke="#222" stroke-width="1.1" stroke-linejoin="round"/>
<g fill="#fff" stroke="#5f8fd6" stroke-width="1.1"><circle cx="539.8" cy="66" r="1.8"/><circle cx="556.2" cy="50" r="1.8"/></g>
<g fill="none" stroke-linejoin="round"><path d="M574.6 50.6H586.6L589.6 53V65.6H577.6L574.6 63Z" fill="#fff" stroke="#222" stroke-width="1.3"/><path d="M574.6 50.6L577.6 53H589.6" stroke="#222" stroke-width="1.2"/><path d="M577.6 53V65.6" stroke="#1b5fc1" stroke-width="2"/></g>
<path d="M602.2 55.6L607.1 60.1L612.0 55.6" fill="none" stroke="#222" stroke-width="2"/>
<path d="M626.9 50V66.2" stroke="#1d57b3" stroke-width="2.2"/><path d="M641 50V66.2" stroke="#222" stroke-width="2.2" stroke-dasharray="3.2 2"/>
<path d="M631.4 54.4H638" stroke="#222" stroke-width="1.2"/><path d="M630.4 54.4L633.2 52.8V56Z" fill="#222"/><path d="M630.4 61.8H637" stroke="#1d57b3" stroke-width="1.2"/><path d="M638.2 61.8L635.4 60.2V63.4Z" fill="#1d57b3"/>
<path d="M652.9 45.2V70.6" stroke="#cbcbcb" stroke-width="1.6"/>
<path d="M664.6 51.4H669" stroke="#777" stroke-width="0.9" stroke-dasharray="1.4 1.2"/><path d="M664.4 51.6V56" stroke="#777" stroke-width="0.9" stroke-dasharray="1.4 1.2"/>
<path d="M664.3 66.4V62" stroke="#1d57b3" stroke-width="1.5"/><path d="M675 51.4H680" stroke="#1d57b3" stroke-width="1.5"/><path d="M664.3 62.4Q664.6 51.8 675.4 51.4" fill="none" stroke="#222" stroke-width="1.9"/>
<path d="M692.2 55.6L697.1 60.1L702.0 55.6" fill="none" stroke="#222" stroke-width="2"/>
<g fill="none" stroke="#222" stroke-width="1.7"><circle cx="719" cy="53.6" r="2.3"/><circle cx="719" cy="62.6" r="2.3"/><path d="M720.8 55.2L731 64.4M720.8 61L731 51.6" stroke-width="2"/></g>
<path d="M744.0 55.6L748.9 60.1L753.8 55.6" fill="none" stroke="#222" stroke-width="2"/>
<path d="M769.6 64.8V56.2Q769.6 50.6 775 50.6Q780.2 50.6 780.4 55.6H782.4V64.6H776.4" fill="none" stroke="#222" stroke-width="1.1"/><path d="M771.8 64.8V56.4Q771.8 52.8 775 52.8Q778.2 52.8 778.2 57.6H780.2V62.4H776.4" fill="none" stroke="#1d57b3" stroke-width="1.1"/>
<path d="M796.0 55.6L801.0 60.1L806.0 55.6" fill="none" stroke="#222" stroke-width="2"/>
<path d="M819.6 50.4H822.4V62.8H826.6V65.4H819.6Z" fill="#bbb" stroke="#222" stroke-width="1.3"/><path d="M828.4 51V66" stroke="#222" stroke-width="1" stroke-dasharray="3 1.4 1 1.4"/><path d="M836.6 50.4H833.8V62.8H830.4V65.4H836.6Z" fill="#fff" stroke="#1d57b3" stroke-width="1.2"/>
<rect x="854.6" y="50.8" width="5.4" height="5.4" fill="#bbb" stroke="#222" stroke-width="1.3"/><g fill="#fff" stroke="#1d57b3" stroke-width="1.2"><rect x="863.8" y="50.8" width="5.4" height="5.4"/><rect x="854.6" y="59.8" width="5.4" height="5.4"/><rect x="863.8" y="59.8" width="5.4" height="5.4"/></g>
<path d="M882.2 55.6L887.1 60.1L892.0 55.6" fill="none" stroke="#222" stroke-width="2"/>
<path d="M906.6 50.2H916.6L921.4 55V66.2H906.6Z" fill="#fff" stroke="#222" stroke-width="1.2" stroke-linejoin="round"/><path d="M916.6 50.2V55H921.4" fill="none" stroke="#222" stroke-width="1"/>
<path d="M908.4 49.4Q913 49.4 913 54" fill="none" stroke="#222" stroke-width="1.6"/><path d="M913 57L910.2 53.4H915.8Z" fill="#222"/>
<text x="908.2" y="64.8" font-size="6.8" fill="#222" textLength="11.6" lengthAdjust="spacingAndGlyphs" font-weight="bold">DXF</text>
<path d="M934.4 55.6L939.2 60.1L944.0 55.6" fill="none" stroke="#222" stroke-width="2"/>
<path d="M950.9 45.2V70.6" stroke="#cbcbcb" stroke-width="1.6"/>
<path d="M966 61.4L972.6 54.8" stroke="#222" stroke-width="2.1"/><path d="M963 64.4L964.2 58.4L969 63.2ZM975.6 51.8L974.4 57.8L969.6 53Z" fill="#222"/><path d="M961.8 60.4L967.2 65.8M972.2 50.2L977.8 55.8" stroke="#222" stroke-width="1"/>
<path d="M988.8 45.2V70.6" stroke="#cbcbcb" stroke-width="1.6"/>
<path d="M999.4 64.6L1015 49" stroke="#1d57b3" stroke-width="1.1"/><path d="M1007.2 57L1016 66" stroke="#222" stroke-width="2.2"/><circle cx="1007.2" cy="56.9" r="2.1" fill="#222"/>
<circle cx="1041.9" cy="57.9" r="7.6" fill="none" stroke="#1d57b3" stroke-width="1.1"/><circle cx="1041.9" cy="57.9" r="4.6" fill="none" stroke="#222" stroke-width="2"/>
<path d="M1068.1 53.8L1080 65.6" stroke="#222" stroke-width="2.2"/><path d="M1071.2 50.2L1083.1 62.4" stroke="#1d57b3" stroke-width="1.1"/>
<circle cx="1112.9" cy="60.9" r="4.6" fill="none" stroke="#1d57b3" stroke-width="1.1"/><path d="M1101.9 65L1116.9 50" stroke="#222" stroke-width="2.2"/>
<path d="M1136 57.9H1152" stroke="#222" stroke-width="2.3"/>
<path d="M1178.1 50.2V66" stroke="#222" stroke-width="2.3"/>
<path d="M1203.1 65H1221" stroke="#222" stroke-width="2.2"/><path d="M1211.5 50.2V64" stroke="#1d57b3" stroke-width="1.1"/><path d="M1211.5 58.8H1217.6V64" fill="none" stroke="#222" stroke-width="1"/>
<path d="M1241 55.6H1251M1241 60.1H1251" stroke="#222" stroke-width="2.2"/>
<path d="M1271 58.5H1288.8" stroke="#1d57b3" stroke-width="1.1" stroke-dasharray="3.6 1.6"/><circle cx="1280" cy="58.5" r="2.9" fill="#fff"/><circle cx="1280" cy="58.5" r="2.3" fill="#222"/>
<path d="M1306.2 55.2Q1314.6 56.2 1316.4 65.6" fill="none" stroke="#1d57b3" stroke-width="1.1"/><path d="M1313.8 57.6L1321.2 51" stroke="#222" stroke-width="2.2"/>
<path d="M1340 50.6Q1342 65 1355.6 65.6" fill="none" stroke="#1d57b3" stroke-width="1.1"/><path d="M1346 62.2Q1350 60 1351 55.6Q1352 51.6 1355.2 50.8" fill="none" stroke="#222" stroke-width="2.2"/><circle cx="1346" cy="62.3" r="2.1" fill="#222"/>
<path d="M1380.4 53.4V51.6H1373.6L1378 58L1373.6 64.4H1380.4V62.6" fill="none" stroke="#222" stroke-width="1.6"/><path d="M1382.2 50.6V66" stroke="#222" stroke-width="1" stroke-dasharray="3 1.3 1 1.3"/><path d="M1384.2 51.6H1390.8L1386.6 58L1390.8 64.4H1384.2" fill="none" stroke="#1d57b3" stroke-width="1.1"/>
<path d="M1407.6 56.8H1424.4" stroke="#1d57b3" stroke-width="1.6"/><path d="M1409.4 57L1407.8 60M1412.4 57L1410.8 60M1415.4 57L1413.8 60M1418.4 57L1416.8 60M1421.4 57L1419.8 60M1424.2 57L1422.6 60" stroke="#2c3a66" stroke-width="1"/>
<path d="M1441.4 65.6Q1443 54.6 1450 54.6Q1457 54.6 1458.6 65.6" fill="none" stroke="#222" stroke-width="1.9"/>
<path d="M1441.6 60L1439.6 59M1443 56.8L1441 54.8M1445.4 54.6L1444 51.6M1448.4 53.4L1448 50M1451.6 53.4L1452 50M1454.6 54.6L1456 51.6M1457 56.8L1459 54.8M1458.4 60L1460.4 59" stroke="#6a7fae" stroke-width="0.9"/><path d="M1440.6 63.8V66.4M1459.4 63.8V66.4" stroke="#1d57b3" stroke-width="1.4"/>
<rect x="1478.4" y="42.2" width="160.2" height="31.4" rx="4" fill="#f0f0f0"/>
<text x="1488.4" y="62.9" font-size="15.8" fill="#333" textLength="85.9" lengthAdjust="spacingAndGlyphs">Search tools...</text>
<rect x="1578.6" y="49.6" width="32.8" height="18.4" rx="2.5" fill="#fbfbfb" stroke="#b8b8b8" stroke-width="1"/><rect x="1612.9" y="49.6" width="15.6" height="18.4" rx="2.5" fill="#fbfbfb" stroke="#b8b8b8" stroke-width="1"/>
<text x="1581.6" y="63.0" font-size="11.5" fill="#333" textLength="16.0" lengthAdjust="spacingAndGlyphs">alt/</text>
<path d="M1598.6 55.6H1601.8L1605.4 61.4H1608.6M1604.6 55.6H1608.6" fill="none" stroke="#333" stroke-width="1"/>
<text x="1617.8" y="63.0" font-size="11.5" fill="#333">c</text>
</svg>
</div>
<div id="strip" class="abs"><svg width="40" height="1039" viewBox="0 40 40 1039" style="position:absolute;left:0;top:0" >
<g fill="none" stroke="#222"><circle cx="13.8" cy="52.6" r="3" stroke-width="1.7"/><path d="M13.8 55.6V64.4" stroke-width="1.8"/><path d="M13.8 62Q14.2 59.4 19.8 58.2" stroke-width="1.6"/><path d="M20.4 51.2H30M22.6 56.2H30M22.6 61H30M20.4 66H30" stroke-width="1.8"/></g><circle cx="13.8" cy="65.4" r="2" fill="#222"/><circle cx="20.4" cy="57.8" r="1.9" fill="#222"/>
<g fill="#222"><circle cx="16.4" cy="92.8" r="3"/><rect x="15.4" y="84.4" width="2" height="2"/><rect x="15.4" y="87.4" width="2" height="2"/><rect x="15.4" y="97" width="2" height="2"/><rect x="15.4" y="100" width="2" height="2"/></g><path d="M21.4 97.6H28.6M25 94V101.2" stroke="#1b5fc1" stroke-width="1.9"/>
<path d="M20.2 120.4C26 120.4 29.8 123.2 29.8 127C29.8 130.8 26 133.6 20.2 133.6C18.8 133.6 17.4 133.4 16.2 133L12 135.6L13.2 131.4C11.6 130.2 10.6 128.8 10.6 127C10.6 123.2 14.4 120.4 20.2 120.4Z" fill="#222"/>
<g fill="none" stroke="#222" stroke-width="1.7"><path d="M25.6 166.4V170.4Q25.6 171.6 24.4 171.6H13.4Q12.2 171.6 12.2 170.4V155.6Q12.2 154.4 13.4 154.4H24.4Q25.6 154.4 25.6 155.6"/><path d="M15.4 159H21.4M15.4 162.8H19.4M15.4 166.6H18" stroke-width="1.5"/></g><path d="M19.6 167.4L20.4 164L27 157.2L29.6 159.8L23 166.6Z" fill="#222"/>
<g fill="none" stroke="#222"><circle cx="21.8" cy="199" r="6.6" stroke-width="1.7"/><path d="M19.6 190.2H24M21.8 190.2V192.4M26.8 192.8L28 191.6" stroke-width="1.6"/><path d="M21.8 199L24.6 196.2" stroke-width="1.5"/><path d="M11 194.6H15.6M9.6 198.4H14M11 202.2H15" stroke-width="1.5"/></g>
<circle cx="19.4" cy="232.6" r="9.6" fill="#222"/><path d="M24.4 239.6L30.4 243.4L27 237Z" fill="#222"/>
<polygon points="19.4,226.4 24.8,229.5 24.8,235.7 19.4,238.8 14,235.7 14,229.5" fill="none" stroke="#fafafa" stroke-width="1.5"/><polygon points="19.4,229.8 21.8,231.2 21.8,234 19.4,235.4 17,234 17,231.2" fill="none" stroke="#fafafa" stroke-width="1"/>
<path d="M0 251.2H40" stroke="#d4d4d4" stroke-width="1"/>
<g fill="none" stroke="#222"><rect x="12.6" y="261" width="14.6" height="16.4" rx="1.6" stroke-width="1.7"/><path d="M20.4 265.2H24.6M20.4 269.2H24.6M20.4 273.2H24.6" stroke-width="1.4"/><path d="M14.8 265L16 266.2L18.2 263.8M14.8 269L16 270.2L18.2 267.8M14.8 273L16 274.2L18.2 271.8" stroke-width="1.1"/></g>
<path d="M9.4 1058.4H25.6V1062" fill="none" stroke="#222" stroke-width="2.2"/><path d="M9.4 1057.4V1064.4L13 1066" fill="none" stroke="#222" stroke-width="2"/><path d="M9.4 1058.2H14V1064.6L9.4 1064.4Z" fill="#222"/>
<circle cx="20.2" cy="1065.8" r="4.2" fill="#fafafa" stroke="#222" stroke-width="1.9"/><path d="M23.2 1069L27 1073" stroke="#222" stroke-width="2.3"/>
</svg>
</div>
<div id="features" class="abs"><svg width="206" height="974" viewBox="40 76 206 974" style="position:absolute;left:0;top:0" >
<path d="M51.6 93.2H65.6L60.4 100.2V107L56.8 104.8V100.2Z" fill="none" stroke="#333" stroke-width="1.4" stroke-linejoin="round"/>
<rect x="79.6" y="84.4" width="156.8" height="28.8" rx="3.2" fill="#fff" stroke="#999" stroke-width="1"/>
<text x="86.0" y="104.4" font-size="13.4" fill="#757575" textLength="123.0" lengthAdjust="spacingAndGlyphs" font-style="italic">Filter by name or type</text>
<text x="44.7" y="134.8" font-size="13.5" fill="#222" textLength="78.9" lengthAdjust="spacingAndGlyphs" stroke="#222" stroke-width="0.35">Features (23)</text>
<path d="M146.6 136.4V123.6H151.6L153 125.4H163.6V136.4H153" fill="none" stroke="#a8a8a8" stroke-width="1.1"/><path d="M146.4 131.6H153.6M150 128V135.2" stroke="#6f8fd0" stroke-width="1.6"/>
<rect x="179" y="123.2" width="4.2" height="13.6" fill="#a0a0a0"/><rect x="187" y="123.2" width="4.2" height="13.6" fill="#a0a0a0"/>
<circle cx="214.8" cy="130.8" r="7.2" fill="none" stroke="#222" stroke-width="1.7"/><path d="M212.4 121.6H217.2M214.8 121.6V123.6M220.6 124.2L221.8 123" stroke="#222" stroke-width="1.6"/><path d="M214.8 130.8L217.6 133.6" stroke="#222" stroke-width="1.4"/>
<g stroke="#cfcfcf" stroke-width="1" fill="none"><path d="M49.6 168V271.4M45 271.4H54"/><path d="M49.6 298V324.4M45 324.4H54"/><path d="M49.6 350V453.4M45 453.4H54"/><path d="M49.6 480V687.4M45 687.4H54"/></g>
<path d="M44 152L50 158L56 152" fill="none" stroke="#444" stroke-width="2"/>
<text x="63.7" y="159.7" font-size="13.5" fill="#222" textLength="100.7" lengthAdjust="spacingAndGlyphs">Default geometry</text>
<circle cx="72.3" cy="180.6" r="3.4" fill="#fff" stroke="#555" stroke-width="1"/><circle cx="72.3" cy="180.6" r="1.5" fill="#555"/>
<text x="85.3" y="185.7" font-size="13.5" fill="#222" textLength="33.7" lengthAdjust="spacingAndGlyphs">Origin</text>
<path d="M66 199.4L79.8 201.0V213.6L66 212.0Z" fill="#ebebeb" stroke="#ababab" stroke-width="1.2" stroke-linejoin="round"/><path d="M72.6 200.20000000000002V205.8L79.8 206.6" fill="none" stroke="#ababab" stroke-width="1.2"/>
<text x="85.8" y="211.7" font-size="13.5" fill="#9d9d9d" textLength="21.2" lengthAdjust="spacingAndGlyphs">Top</text>
<path d="M66 225.4L79.8 227.0V239.6L66 238.0Z" fill="#ebebeb" stroke="#ababab" stroke-width="1.2" stroke-linejoin="round"/><path d="M72.6 226.20000000000002V231.8L79.8 232.6" fill="none" stroke="#ababab" stroke-width="1.2"/>
<text x="85.8" y="237.7" font-size="13.5" fill="#9d9d9d" textLength="31.1" lengthAdjust="spacingAndGlyphs">Front</text>
<path d="M66 251.39999999999998L79.8 252.99999999999997V265.59999999999997L66 264.0Z" fill="#ebebeb" stroke="#ababab" stroke-width="1.2" stroke-linejoin="round"/><path d="M72.6 252.2V257.79999999999995L79.8 258.59999999999997" fill="none" stroke="#ababab" stroke-width="1.2"/>
<text x="85.8" y="263.7" font-size="13.5" fill="#9d9d9d" textLength="30.2" lengthAdjust="spacingAndGlyphs">Right</text>
<path d="M44 282L50 288L56 282" fill="none" stroke="#444" stroke-width="2"/>
<path d="M73 277.4L79.6 281.2V288.8L73 292.6L66.4 288.8V281.2Z" fill="#f3f3f3" stroke="#ababab" stroke-width="1.3" stroke-linejoin="round"/><path d="M66.4 281.2L73 285L79.6 281.2M73 285V292.6" fill="none" stroke="#ababab" stroke-width="1.2"/>
<text x="86.4" y="289.7" font-size="13.5" fill="#9d9d9d" textLength="67.6" lengthAdjust="spacingAndGlyphs">Origin Cube</text>
<g fill="#222"><circle cx="200" cy="284" r="3.1"/><rect x="199" y="275" width="2" height="2"/><rect x="199" y="278" width="2" height="2"/><rect x="199" y="288" width="2" height="2"/><rect x="199" y="291" width="2" height="2"/></g>
<rect x="59.4" y="299" width="181.6" height="24.6" rx="3" fill="#f3f3f3"/>
<circle cx="72.6" cy="311" r="7.2" fill="#fff" stroke="#ababab" stroke-width="1.3"/><circle cx="72.6" cy="311" r="4.9" fill="none" stroke="#ababab" stroke-width="1"/><path d="M72.6 306.1V311H77.5" fill="none" stroke="#ababab" stroke-width="1.1"/>
<text x="85.8" y="315.7" font-size="13.5" fill="#9d9d9d" textLength="99.6" lengthAdjust="spacingAndGlyphs">Mate connector 1</text>
<path d="M44 334L50 340L56 334" fill="none" stroke="#444" stroke-width="2"/>
<path d="M66.2 342.6V330.6H71.6L73 332.6H80.4V342.6Z" fill="#fff" stroke="#555" stroke-width="1.2" stroke-linejoin="round"/>
<text x="86.7" y="341.7" font-size="13.5" fill="#222" textLength="53.7" lengthAdjust="spacingAndGlyphs">Tubes (4)</text>
<path d="M66 355.4L79.8 357.0V369.59999999999997L66 368.0Z" fill="#ebebeb" stroke="#ababab" stroke-width="1.2" stroke-linejoin="round"/><path d="M72.6 356.2V361.79999999999995L79.8 362.59999999999997" fill="none" stroke="#ababab" stroke-width="1.2"/>
<text x="85.8" y="367.7" font-size="13.5" fill="#9d9d9d" textLength="68.1" lengthAdjust="spacingAndGlyphs">Offset Plate</text>
<path d="M67.4 394.6L68.8 390.6L76.8 382.6L79.4 385.2L71.4 393.2Z" fill="none" stroke="#b0b0b0" stroke-width="1.15" stroke-linejoin="round"/><path d="M68.8 390.6L71.4 393.2" stroke="#b0b0b0" stroke-width="1"/><path d="M65 395.9H80" stroke="#c4cde6" stroke-width="1.2"/>
<text x="85.8" y="393.7" font-size="13.5" fill="#9d9d9d" textLength="71.7" lengthAdjust="spacingAndGlyphs">Tube Sketch</text>
<path d="M65.6 407.6H77.6L80 409.8V422.2H68L65.6 420Z" fill="#fff" stroke="#333" stroke-width="1.1" stroke-linejoin="round"/><path d="M65.6 407.6L68 409.8H80M68 409.8V422.2" fill="none" stroke="#333" stroke-width="1"/><rect x="70.8" y="412.6" width="8.8" height="9.2" fill="#8e8e8e" stroke="#333" stroke-width="0.9"/>
<text x="85.8" y="419.7" font-size="13.5" fill="#222" textLength="77.1" lengthAdjust="spacingAndGlyphs">Tube Extrude</text>
<path d="M64.8 432.4H72.9L80.6 436V448.5L72.6 448.3L64.8 445Z" fill="#fff" stroke="#2a2a2a" stroke-width="1.2" stroke-linejoin="round"/><path d="M72.6 435.4L80.6 436V448.5L72.6 448.3Z" fill="#8a8a8a" stroke="#2a2a2a" stroke-width="1"/><path d="M64.8 432.4L72.6 435.4" stroke="#2a2a2a" stroke-width="1" fill="none"/><path d="M74.6 438.4L78.8 438.8L78.8 446L74.6 445.6Z" fill="#a9a9a9"/><g fill="#444"><ellipse cx="66.9" cy="436.8" rx="0.9" ry="1.3"/><ellipse cx="70.4" cy="438" rx="0.9" ry="1.3"/><ellipse cx="66.9" cy="441.6" rx="0.9" ry="1.3"/><ellipse cx="70.4" cy="443.2" rx="0.9" ry="1.3"/></g>
<text x="85.8" y="445.7" font-size="13.5" fill="#222" textLength="68.9" lengthAdjust="spacingAndGlyphs">2x1 Convert</text>
<g fill="#222"><circle cx="200" cy="440" r="3.1"/><rect x="199" y="431" width="2" height="2"/><rect x="199" y="434" width="2" height="2"/><rect x="199" y="444" width="2" height="2"/><rect x="199" y="447" width="2" height="2"/></g>
<rect x="40" y="454.8" width="200" height="23.2" fill="#eef0f2"/><path d="M40 478.3H240" stroke="#a9cde6" stroke-width="1.2"/>
<path d="M44 464L50 470L56 464" fill="none" stroke="#444" stroke-width="2"/>
<path d="M66.2 472.6V460.6H71.6L73 462.6H80.4V472.6Z" fill="#fff" stroke="#555" stroke-width="1.2" stroke-linejoin="round"/>
<text x="86.4" y="471.7" font-size="13.5" fill="#222" textLength="54.6" lengthAdjust="spacingAndGlyphs">Plates (7)</text>
<path d="M67.4 498.6L68.8 494.6L76.8 486.6L79.4 489.2L71.4 497.2Z" fill="none" stroke="#5e5e5e" stroke-width="1.15" stroke-linejoin="round"/><path d="M68.8 494.6L71.4 497.2" stroke="#5e5e5e" stroke-width="1"/><path d="M65 499.9H80" stroke="#9fb4d6" stroke-width="1.2"/>
<text x="85.8" y="497.7" font-size="13.5" fill="#222" textLength="82.2" lengthAdjust="spacingAndGlyphs">Layout Sketch</text>
<rect x="40" y="507.2" width="200" height="23.6" fill="#abd7f3"/>
<path d="M67.4 524.6L68.8 520.6L76.8 512.6L79.4 515.2L71.4 523.2Z" fill="none" stroke="#7a8fa3" stroke-width="1.15" stroke-linejoin="round"/><path d="M68.8 520.6L71.4 523.2" stroke="#7a8fa3" stroke-width="1"/><path d="M65 525.9H80" stroke="#8fb0d8" stroke-width="1.2"/>
<text x="85.8" y="523.7" font-size="13.5" fill="#4a7593" textLength="88.0" lengthAdjust="spacingAndGlyphs" font-weight="bold">Outer Plate Sk</text>
<rect x="64" y="542.2" width="171" height="6.6" fill="#b3b3b3"/>
<path d="M65.6 563.6H77.6L80 565.8V578.2H68L65.6 576Z" fill="#fff" stroke="#b0b0b0" stroke-width="1.1" stroke-linejoin="round"/><path d="M65.6 563.6L68 565.8H80M68 565.8V578.2" fill="none" stroke="#b0b0b0" stroke-width="1"/><rect x="70.8" y="568.6" width="8.8" height="9.2" fill="#c8c8c8" stroke="#b0b0b0" stroke-width="0.9"/>
<text x="86.4" y="575.7" font-size="13.5" fill="#9d9d9d" textLength="65.6" lengthAdjust="spacingAndGlyphs" font-style="italic">Outer Plate</text>
<path d="M67.4 602.6L68.8 598.6L76.8 590.6L79.4 593.2L71.4 601.2Z" fill="none" stroke="#b0b0b0" stroke-width="1.15" stroke-linejoin="round"/><path d="M68.8 598.6L71.4 601.2" stroke="#b0b0b0" stroke-width="1"/><path d="M65 603.9H80" stroke="#c4cde6" stroke-width="1.2"/>
<text x="86.4" y="601.7" font-size="13.5" fill="#9d9d9d" textLength="81.1" lengthAdjust="spacingAndGlyphs" font-style="italic">Inner Plate Sk</text>
<path d="M65.6 615.6H77.6L80 617.8V630.2H68L65.6 628Z" fill="#fff" stroke="#b0b0b0" stroke-width="1.1" stroke-linejoin="round"/><path d="M65.6 615.6L68 617.8H80M68 617.8V630.2" fill="none" stroke="#b0b0b0" stroke-width="1"/><rect x="70.8" y="620.6" width="8.8" height="9.2" fill="#c8c8c8" stroke="#b0b0b0" stroke-width="0.9"/>
<text x="86.4" y="627.7" font-size="13.5" fill="#9d9d9d" textLength="63.0" lengthAdjust="spacingAndGlyphs" font-style="italic">Inner Plate</text>
<path d="M67.4 654.6L68.8 650.6L76.8 642.6L79.4 645.2L71.4 653.2Z" fill="none" stroke="#b0b0b0" stroke-width="1.15" stroke-linejoin="round"/><path d="M68.8 650.6L71.4 653.2" stroke="#b0b0b0" stroke-width="1"/><path d="M65 655.9H80" stroke="#c4cde6" stroke-width="1.2"/>
<text x="86.4" y="653.7" font-size="13.5" fill="#9d9d9d" textLength="67.8" lengthAdjust="spacingAndGlyphs" font-style="italic">Crush Plate</text>
<path d="M65.6 667.6H77.6L80 669.8V682.2H68L65.6 680Z" fill="#fff" stroke="#b0b0b0" stroke-width="1.1" stroke-linejoin="round"/><path d="M65.6 667.6L68 669.8H80M68 669.8V682.2" fill="none" stroke="#b0b0b0" stroke-width="1"/><rect x="70.8" y="672.6" width="8.8" height="9.2" fill="#c8c8c8" stroke="#b0b0b0" stroke-width="0.9"/>
<text x="86.4" y="679.7" font-size="13.5" fill="#9d9d9d" textLength="67.8" lengthAdjust="spacingAndGlyphs" font-style="italic">Crush Plate</text>
<rect x="46" y="697.6" width="15" height="9.6" rx="2" fill="#9a9a9a"/><path d="M47.6 694.4V697.6M59.4 694.4V697.6M53.5 695V697.6" stroke="#b5b5b5" stroke-width="1.2"/><circle cx="50.4" cy="702" r="2.4" fill="#fff" stroke="#777" stroke-width="0.9"/><circle cx="56.6" cy="702" r="2.4" fill="#fff" stroke="#777" stroke-width="0.9"/><path d="M50 705.6Q53.5 707 57 705.6" fill="none" stroke="#e8e8e8" stroke-width="0.9"/>
<text x="66.9" y="705.7" font-size="13.5" fill="#9d9d9d" textLength="97.9" lengthAdjust="spacingAndGlyphs" font-style="italic">First Stage Shaft</text>
<g fill="#222"><circle cx="200" cy="700" r="3.1"/><rect x="199" y="691" width="2" height="2"/><rect x="199" y="694" width="2" height="2"/><rect x="199" y="704" width="2" height="2"/><rect x="199" y="707" width="2" height="2"/></g>
<path d="M40 708.4H240" stroke="#d9d9d9" stroke-width="1"/>
<path d="M44 719L50 725L56 719" fill="none" stroke="#444" stroke-width="2"/>
<text x="63.2" y="726.7" font-size="13.5" fill="#222" textLength="49.6" lengthAdjust="spacingAndGlyphs">Parts (2)</text>
<path d="M70.4 741.4L73 740.6H77.4L79.6 742V753.4L77.4 754.8H67.2L65.2 753.4V747.4L67.2 746.2H70.4Z" fill="#fff" stroke="#b0b0b0" stroke-width="1.1" stroke-linejoin="round"/><path d="M70.4 741.4H75V749.4H67.4L65.2 747.4M75 749.4L79.6 753.4M75 741.4L77.4 740.6" fill="none" stroke="#b0b0b0" stroke-width="0.9"/>
<text x="85.2" y="752.7" font-size="13.5" fill="#9d9d9d" textLength="67.8" lengthAdjust="spacingAndGlyphs">Origin Cube</text>
<path d="M70.4 767.4L73 766.6H77.4L79.6 768V779.4L77.4 780.8H67.2L65.2 779.4V773.4L67.2 772.2H70.4Z" fill="#fff" stroke="#555" stroke-width="1.1" stroke-linejoin="round"/><path d="M70.4 767.4H75V775.4H67.4L65.2 773.4M75 775.4L79.6 779.4M75 767.4L77.4 766.6" fill="none" stroke="#555" stroke-width="0.9"/>
<text x="85.2" y="778.7" font-size="13.5" fill="#222" textLength="89.0" lengthAdjust="spacingAndGlyphs">Tube 2"x1"x16"</text>
</svg>
</div>
<div id="listbtn" class="abs"><svg width="33" height="34" viewBox="245 538 33 34" style="position:absolute;left:0;top:0" >
<path d="M251.4 547.6L255 550.4L258.6 547.6" fill="none" stroke="#333" stroke-width="1.3"/><path d="M254.8 553V564.6" stroke="#888" stroke-width="2"/><path d="M258.6 548.6H270.2M257.6 553.6H270.2M257.6 558.6H270.2M257.6 563.6H270.2" stroke="#333" stroke-width="1.1"/>
</svg>
</div>
<div id="dialog" class="abs"><svg width="220" height="220" viewBox="258 79 220 220" style="position:absolute;left:0;top:0" >
<text x="264.4" y="98.2" font-size="14.5" fill="#222" textLength="83.8" lengthAdjust="spacingAndGlyphs" stroke="#222" stroke-width="0.3">Outer Plate Sk</text>
<rect x="422.1" y="79" width="27.7" height="27.8" fill="#0b960b"/>
<path d="M428.4 93L434.4 98.9L443.3 88.8" fill="none" stroke="#fff" stroke-width="3"/>
<path d="M458.9 88.9L468.9 98.9M468.9 88.9L458.9 98.9" stroke="#c6283c" stroke-width="3.2"/>
<path d="M258 107.3H478" stroke="#d0d0d0" stroke-width="1"/>
<rect x="261.5" y="113.6" width="186.8" height="42.8" rx="2" fill="#fff" stroke="#cfcfcf" stroke-width="1"/>
<text x="267.1" y="127.8" font-size="10.8" fill="#555" textLength="57.8" lengthAdjust="spacingAndGlyphs">Sketch plane</text>
<text x="268.4" y="149.6" font-size="13.8" fill="#4a4a4a" textLength="128.0" lengthAdjust="spacingAndGlyphs">Face of Layout Sketch</text>
<path d="M429 141.6L436.5 149.1M436.5 141.6L429 149.1" stroke="#555" stroke-width="1.2"/>
<path d="M462.1 125.8V119.2A6.6 6.6 0 0 1 468.7 125.8Z" fill="#e6e6e6"/>
<circle cx="462.1" cy="125.8" r="8.8" fill="none" stroke="#333" stroke-width="1.2"/><circle cx="462.1" cy="125.8" r="6.6" fill="none" stroke="#333" stroke-width="1.2"/><path d="M462.1 119.2V125.8H468.7" fill="none" stroke="#333" stroke-width="1.3"/>
<rect x="262.2" y="170.1" width="11.7" height="11.7" rx="2.4" fill="#1f5bbd"/><path d="M264.8 176.2L267.2 178.6L271.4 173.4" fill="none" stroke="#fff" stroke-width="1.9"/>
<text x="278.6" y="180.7" font-size="13.6" fill="#555" textLength="105.8" lengthAdjust="spacingAndGlyphs">Disable imprinting</text>
<rect x="262.7" y="197.6" width="10.7" height="10.7" rx="2.4" fill="#fff" stroke="#8a8a8a" stroke-width="1.1"/>
<text x="278.6" y="207.7" font-size="13.6" fill="#555" textLength="100.5" lengthAdjust="spacingAndGlyphs">Show constraints</text>
<rect x="262.2" y="225.1" width="11.7" height="11.7" rx="2.4" fill="#1f5bbd"/><path d="M264.8 231.2L267.2 233.6L271.4 228.4" fill="none" stroke="#fff" stroke-width="1.9"/>
<text x="278.6" y="235.7" font-size="13.6" fill="#555" textLength="104.7" lengthAdjust="spacingAndGlyphs">Show expressions</text>
<rect x="262.2" y="252.1" width="11.7" height="11.7" rx="2.4" fill="#1f5bbd"/><path d="M264.8 258.2L267.2 260.6L271.4 255.4" fill="none" stroke="#fff" stroke-width="1.9"/>
<text x="278.6" y="262.7" font-size="13.6" fill="#555" textLength="70.7" lengthAdjust="spacingAndGlyphs">Show errors</text>
<rect x="430.6" y="274.2" width="20.4" height="20.8" rx="3" fill="#fff" stroke="#777" stroke-width="1"/>
<circle cx="440.4" cy="284.4" r="7.6" fill="none" stroke="#222" stroke-width="1.1"/><path d="M436 288L437 284.6L442.6 278.6L444.8 280.6L439.2 286.8Z" fill="#fff" stroke="#222" stroke-width="1"/><path d="M433.6 288.6H444" stroke="#1b5fc1" stroke-width="1"/><path d="M445.4 289.6L448.4 292.8" stroke="#222" stroke-width="1.6"/>
<circle cx="466.9" cy="287.8" r="6.1" fill="#a9a9a9"/>
<text x="464.3" y="291.6" font-size="10.5" fill="#fff" font-weight="bold">?</text>
</svg>
</div>
<div id="viewcube" class="abs"><svg width="179" height="180" viewBox="1740 80 179 180" style="position:absolute;left:0;top:0" >
<g fill="#9c9c9c"><path d="M1829.7 91.2L1837.3 100.8H1822.1Z"/><path d="M1829.7 240.4L1837.3 230.8H1822.1Z"/><path d="M1755.2 165.8L1765 158.2V173.4Z"/><path d="M1904.8 165.8L1895 158.2V173.4Z"/></g>
<path d="M1809.6 102.6Q1791.4 107.6 1782 120.4" fill="none" stroke="#9c9c9c" stroke-width="4.6"/><path d="M1776 125L1778.2 112.6L1789 123.4Z" fill="#9c9c9c"/>
<path d="M1850.4 102.6Q1868.6 107.6 1878 120.4" fill="none" stroke="#9c9c9c" stroke-width="4.6"/><path d="M1884 125L1881.8 112.6L1871 123.4Z" fill="#9c9c9c"/>
<path d="M1812 137.4H1848L1858.4 147.8V183.6L1848 193.7H1812L1802 183.6V147.8Z" fill="#e6e9ec"/>
<rect x="1807.2" y="143" width="45.8" height="45.6" rx="7" fill="#fdfefe"/>
<text x="1816.3" y="168.6" font-size="13.5" fill="#111" textLength="27.0" lengthAdjust="spacingAndGlyphs">Right</text>
<path d="M1799.2 137.4V196.2" stroke="#2a2ad0" stroke-width="1.2"/><path d="M1798.6 196.2H1858.4" stroke="#2fb52f" stroke-width="1.2"/>
<text x="1796.0" y="131.4" font-size="12.5" fill="#5548d8" textLength="7.0" lengthAdjust="spacingAndGlyphs">Z</text>
<text x="1864.8" y="200.2" font-size="12.5" fill="#27a827" textLength="7.2" lengthAdjust="spacingAndGlyphs">Y</text>
<path d="M1874.7 222.6L1883 225.8V236.4L1874.7 240.4L1866.4 236.4V225.8Z" fill="#fff" stroke="#444" stroke-width="1.1" stroke-linejoin="round"/><path d="M1866.4 225.8L1874.7 229.2V240.4L1866.4 236.4Z" fill="#9a9a9a" stroke="#444" stroke-width="0.9"/><path d="M1874.7 229.2L1883 225.8V236.4L1874.7 240.4Z" fill="#d6d6d6" stroke="#444" stroke-width="0.9"/>
<path d="M1892 229.6H1899.6L1895.8 233.6Z" fill="#222"/>
</svg>
</div>
<div id="rtools" class="abs"><svg width="39" height="320" viewBox="1880 395 39 320" style="position:absolute;left:0;top:0" >
<rect x="1888.5" y="400.7" width="40" height="131.6" fill="#fff" stroke="#c9c9c9" stroke-width="1"/>
<path d="M1888.5 432.8H1920M1888.5 465.8H1920M1888.5 499.2H1920" stroke="#c9c9c9" stroke-width="1"/>
<g stroke="#888" stroke-width="0.8"><path d="M1897 420L1906 408.6L1910.6 411.6L1903 423Z" fill="#777"/><path d="M1900 421.4L1911.4 412L1914.6 416L1903.6 424.6Z" fill="#a5a5a5"/><rect x="1896" y="420" width="19" height="6.4" rx="1" fill="#d8d8d8"/></g><circle cx="1899.4" cy="423.2" r="1.2" fill="#fff" stroke="#777" stroke-width="0.6"/>
<path d="M1903 449L1910.4 445.6L1916 448.6V456.6L1909.4 460.6L1903 457Z" fill="#fff" stroke="#222" stroke-width="1.1" stroke-linejoin="round"/><path d="M1903 449L1909.4 452.2L1916 448.6M1909.4 452.2V460.6" fill="none" stroke="#222" stroke-width="1"/>
<g fill="#1b5fc1"><rect x="1895.4" y="441.2" width="2.6" height="2.4"/><rect x="1898.8" y="441.2" width="2.6" height="2.4"/><rect x="1902.2" y="441.2" width="2.6" height="2.4"/><rect x="1895.4" y="444.4" width="2.6" height="2.4"/><rect x="1898.8" y="444.4" width="2.6" height="2.4"/><rect x="1902.2" y="444.4" width="2.6" height="2.4"/><rect x="1895.4" y="447.6" width="2.6" height="2.4"/><rect x="1898.8" y="447.6" width="2.6" height="2.4"/></g>
<g fill="#222"><rect x="1895.4" y="474.2" width="2.6" height="2.4"/><rect x="1898.8" y="474.2" width="2.6" height="2.4"/><rect x="1902.2" y="474.2" width="2.6" height="2.4"/><rect x="1895.4" y="477.4" width="2.6" height="2.4"/><rect x="1898.8" y="477.4" width="2.6" height="2.4"/><rect x="1902.2" y="477.4" width="2.6" height="2.4"/><rect x="1895.4" y="480.6" width="2.6" height="2.4"/></g>
<path d="M1902.6 483L1908.4 480.4L1912.4 482.6V488.4L1907.6 491.2L1902.6 488.6Z" fill="#fff" stroke="#222" stroke-width="1" stroke-linejoin="round"/><path d="M1902.6 483L1907.6 485.4L1912.4 482.6M1907.6 485.4V491.2" fill="none" stroke="#222" stroke-width="0.9"/>
<path d="M1899.6 481.6Q1897.8 481.6 1897.8 483.4V485.4Q1897.8 486.8 1896.6 487Q1897.8 487.2 1897.8 488.6V490.6Q1897.8 492.4 1899.6 492.4M1913.6 481.6Q1915.4 481.6 1915.4 483.4V485.4Q1915.4 486.8 1916.6 487Q1915.4 487.2 1915.4 488.6V490.6Q1915.4 492.4 1913.6 492.4" fill="none" stroke="#222" stroke-width="1.1"/>
<g fill="#222"><rect x="1895.4" y="507.2" width="2.6" height="2.4"/><rect x="1898.8" y="507.2" width="2.6" height="2.4"/><rect x="1902.2" y="507.2" width="2.6" height="2.4"/><rect x="1895.4" y="510.4" width="2.6" height="2.4"/><rect x="1898.8" y="510.4" width="2.6" height="2.4"/><rect x="1902.2" y="510.4" width="2.6" height="2.4"/><rect x="1895.4" y="513.6" width="2.6" height="2.4"/></g>
<text x="1899.6" y="524.4" font-size="15" style="font-family:'Liberation Serif',serif;font-style:italic;font-weight:bold" fill="#222">x</text><path d="M1898.6 513.6Q1895.6 519.4 1898.6 525.6M1912.6 513.6Q1915.6 519.4 1912.6 525.6" fill="none" stroke="#222" stroke-width="1.3"/>
<rect x="1888.5" y="543" width="40" height="165" fill="#fff" stroke="#c9c9c9" stroke-width="1"/>
<path d="M1888.5 576H1920M1888.5 609H1920M1888.5 642H1920M1888.5 675H1920" stroke="#c9c9c9" stroke-width="1"/>
<rect x="1893" y="547.6" width="24" height="24" rx="3" fill="#e0e0e0"/><path d="M1904.6 560.4Q1898 549.6 1894.6 552.8Q1895 560 1900 561.6Q1896.6 566.4 1900.6 568.4Q1903.6 566.8 1904.6 562.6Q1905.6 566.8 1908.6 568.4Q1912.6 566.4 1909.2 561.6Q1914.2 560 1914.6 552.8Q1911.2 549.6 1904.6 560.4Z" fill="#0a0a0a"/>
<rect x="1893" y="580.6" width="24" height="24" rx="2.5" fill="#dcdcdc"/><rect x="1895" y="582.6" width="20" height="20" fill="#1d5ec2"/>
<text x="1896.2" y="599" font-size="16" textLength="18" lengthAdjust="spacingAndGlyphs" style="font-family:'Liberation Serif',serif;font-weight:bold" fill="#fff">MK</text>
<rect x="1893" y="613.6" width="24" height="24" rx="3" fill="#dcdcdc"/><rect x="1895.6" y="622.6" width="19" height="11.4" rx="2.4" fill="#2a2a2a"/><circle cx="1901.4" cy="627.6" r="2.8" fill="#e8f0ff" stroke="#6a8bd0" stroke-width="1"/><circle cx="1909" cy="627.6" r="2.8" fill="#e8f0ff" stroke="#6a8bd0" stroke-width="1"/><path d="M1899 617.4H1911.4" stroke="#4a6fc0" stroke-width="2" stroke-dasharray="2.4 1.6"/><path d="M1902 631.6Q1905 633.2 1908 631.6" fill="none" stroke="#ddd" stroke-width="0.9"/>
<rect x="1893" y="646.6" width="24" height="24" rx="3" fill="#5cb85c"/><path d="M1896.4 651.6Q1901 650.4 1904.4 652.6V666.4Q1901 664.4 1896.4 665.6ZM1913.6 651.6Q1909 650.4 1905.6 652.6V666.4Q1909 664.4 1913.6 665.6Z" fill="#fff"/>
<rect x="1893" y="679.6" width="24" height="24" rx="2" fill="#dcdcdc"/><rect x="1894.6" y="681.2" width="20.8" height="20.8" fill="#1d5ec2"/><path d="M1897 685.6Q1901.4 684.6 1904.4 686.4V698.4Q1901.4 696.8 1897 697.8ZM1913 685.6Q1908.6 684.6 1905.6 686.4V698.4Q1908.6 696.8 1913 697.8Z" fill="#fff"/>
</svg>
</div>
<div id="tabbar" class="abs"><svg width="1879" height="29" viewBox="40 1050 1879 29" style="position:absolute;left:0;top:0" >
<path d="M73.8 1050V1079" stroke="#c2c2c2" stroke-width="1"/>
<path d="M49.2 1064.6H64M56.6 1057.2V1072" stroke="#4a4a4a" stroke-width="2.6"/>
<path d="M76 1050H108.8L116.2 1063.3L108.8 1076.6H76Q74 1076.6 74 1074.6V1052Q74 1050 76 1050Z" fill="#eeeeee"/>
<path d="M109.8 1050H238L245.2 1063.3L238 1076.6H109.8L117.2 1063.3Z" fill="#fdfdfd" stroke="#dcdcdc" stroke-width="0.8"/>
<path d="M82.6 1063.8L91.6 1055.4L95.4 1058.9V1056.4H98V1061.3L100.8 1063.8H98.6V1071.4H93.6V1066H89.6V1071.4H84.6V1063.8Z" fill="#555"/>
<text x="130.3" y="1068.4" font-size="15.6" fill="#6e6e6e" textLength="100.7" lengthAdjust="spacingAndGlyphs">Exercise 5 - Flip</text>
<path d="M225.2 1051H237.6L244.4 1063.3L237.6 1075.8H225.2Z" fill="#fdfdfd"/>
<path d="M250 1050H445.6Q448.2 1050 448.2 1052.6V1076.6H247.2V1052.8Q247.2 1050 250 1050Z" fill="#e6e6e6"/><path d="M448.7 1052V1076.6" stroke="#c4c4c4" stroke-width="1"/>
<circle cx="266.8" cy="1062.6" r="6.4" fill="#6ea6df"/><circle cx="266.8" cy="1059.4" r="1.7" fill="#fff"/><path d="M265 1062.2H268.6V1066.8Q266.8 1067.8 265 1066.8Z" fill="#fff"/>
<g stroke="#333" stroke-width="1.1" stroke-linejoin="round"><path d="M278.6 1054.4H291.6Q294.6 1054.4 295 1057.4V1070.6H282Q279 1070.6 278.6 1067.6Z" fill="#fff"/><path d="M279.4 1055.2H289.6V1065H279.4Z" fill="#8e8e8e" stroke="#555" stroke-width="0.9"/><path d="M289.6 1055.2L294.6 1057.6M289.6 1065L294.6 1070.2M279.4 1065L281.6 1070.4" fill="none" stroke-width="0.9"/></g>
<text x="300.0" y="1069.2" font-size="15.6" fill="#7c7c7c" textLength="128.0" lengthAdjust="spacingAndGlyphs">Exercise 5 Assembly</text>
<path d="M449.8 1079V1052.5Q449.8 1050 452.3 1050H646.2Q648.7 1050 648.7 1052.5V1079Z" fill="#fff"/><path d="M451.6 1077.4H647" stroke="#164fa8" stroke-width="3" stroke-linecap="round"/>
<g fill="#fff" stroke="#333" stroke-width="1.1" stroke-linejoin="round"><path d="M461.2 1060.2Q461.2 1058.4 463 1058.2L468 1057.6Q470 1057.6 470.2 1059.4V1070.2L463.6 1071.4Q461.2 1071.4 461.2 1069.6Z"/><path d="M463.6 1060.4V1071.2" fill="none" stroke-width="0.9"/><path d="M469.4 1056.2Q469.4 1054.4 471.2 1054.2L475.6 1053.8Q477.6 1053.8 477.8 1055.6V1070.2L471.6 1071.4Q469.4 1071.4 469.4 1069.8Z"/><path d="M471.8 1056.2V1071.2" fill="none" stroke-width="0.9"/></g>
<text x="482.2" y="1069.2" font-size="15.6" fill="#222" textLength="135.2" lengthAdjust="spacingAndGlyphs">Exercise 5 Part Studio</text>
</svg>
</div>
</body></html>
